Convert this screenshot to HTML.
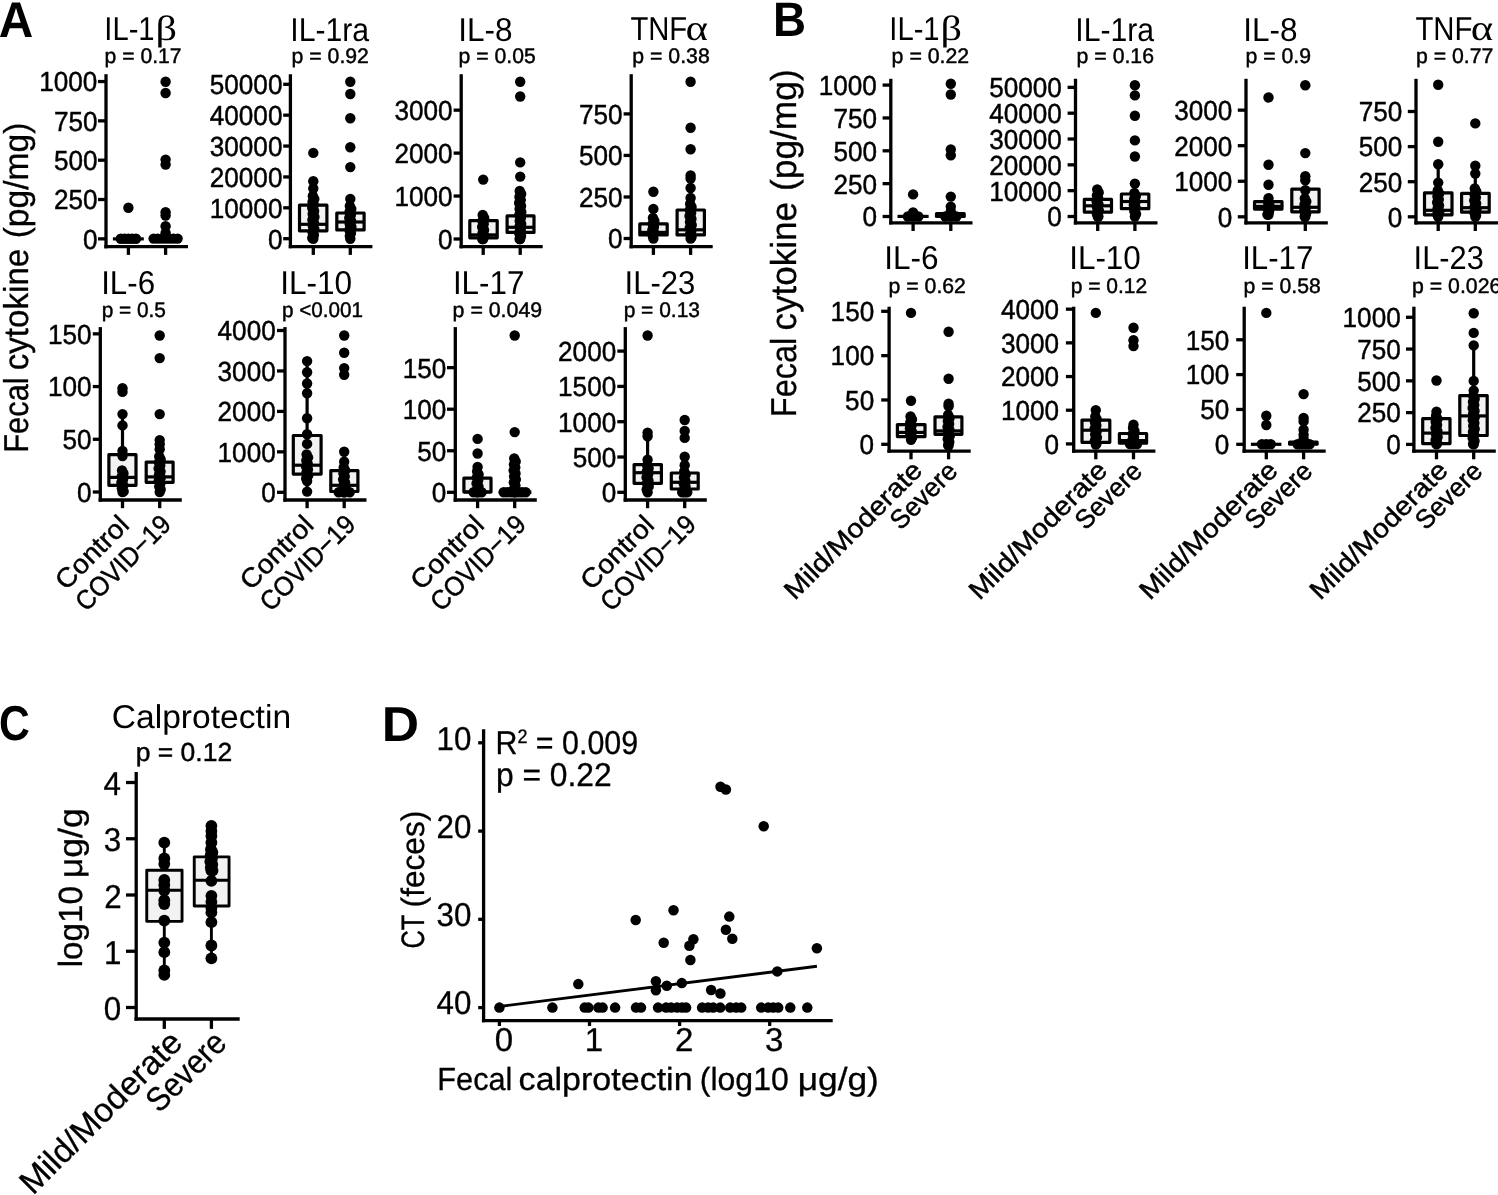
<!DOCTYPE html>
<html><head><meta charset="utf-8"><title>Fecal cytokines figure</title>
<style>
html,body{margin:0;padding:0;background:#fff;}
body{width:1498px;height:1195px;overflow:hidden;}
svg{display:block;will-change:transform;}
text{font-family:"Liberation Sans",sans-serif;fill:#000;text-rendering:geometricPrecision;}
</style></head><body>
<svg width="1498" height="1195" viewBox="0 0 1498 1195">
<rect width="1498" height="1195" fill="#fff"/>
<g>
<rect x="112.9" y="237.3" width="30.9" height="3.2" fill="#000"/>
<rect x="150.2" y="236.6" width="30.8" height="3.7" fill="#000"/>
</g><g fill="#000">
<circle cx="128.4" cy="207.8" r="5.2"/>
<circle cx="120.8" cy="238.8" r="5.2"/>
<circle cx="124.6" cy="238.8" r="5.2"/>
<circle cx="128.4" cy="238.8" r="5.2"/>
<circle cx="132.2" cy="238.8" r="5.2"/>
<circle cx="136" cy="238.8" r="5.2"/>
<circle cx="165.6" cy="81.7" r="5.2"/>
<circle cx="165.6" cy="93" r="5.2"/>
<circle cx="165.6" cy="159.6" r="5.2"/>
<circle cx="165.6" cy="164.6" r="5.2"/>
<circle cx="165.6" cy="212.2" r="5.2"/>
<circle cx="165.6" cy="215.6" r="5.2"/>
<circle cx="165.6" cy="226.3" r="5.2"/>
<circle cx="165.6" cy="233" r="5.2"/>
<circle cx="153.6" cy="238.6" r="5.2"/>
<circle cx="157.6" cy="238.6" r="5.2"/>
<circle cx="161.6" cy="238.6" r="5.2"/>
<circle cx="165.6" cy="238.6" r="5.2"/>
<circle cx="169.6" cy="238.6" r="5.2"/>
<circle cx="173.6" cy="238.6" r="5.2"/>
<circle cx="177.6" cy="238.6" r="5.2"/>
</g>
<line x1="106" y1="74.2" x2="106" y2="248.35" stroke="#000" stroke-width="3.3" stroke-linecap="butt"/>
<line x1="104.35" y1="246.7" x2="188" y2="246.7" stroke="#000" stroke-width="3.3" stroke-linecap="butt"/>
<line x1="98" y1="238.85" x2="106" y2="238.85" stroke="#000" stroke-width="3.3" stroke-linecap="butt"/>
<text x="97.44" y="248.69" font-size="27.5" stroke="#000" stroke-width="0.45" text-anchor="end" textLength="14.53" lengthAdjust="spacingAndGlyphs">0</text>
<line x1="98" y1="199.52" x2="106" y2="199.52" stroke="#000" stroke-width="3.3" stroke-linecap="butt"/>
<text x="97.51" y="209.36" font-size="27.5" stroke="#000" stroke-width="0.45" text-anchor="end" textLength="43.59" lengthAdjust="spacingAndGlyphs">250</text>
<line x1="98" y1="160.19" x2="106" y2="160.19" stroke="#000" stroke-width="3.3" stroke-linecap="butt"/>
<text x="97.51" y="170.03" font-size="27.5" stroke="#000" stroke-width="0.45" text-anchor="end" textLength="43.59" lengthAdjust="spacingAndGlyphs">500</text>
<line x1="98" y1="120.86" x2="106" y2="120.86" stroke="#000" stroke-width="3.3" stroke-linecap="butt"/>
<text x="97.51" y="130.7" font-size="27.5" stroke="#000" stroke-width="0.45" text-anchor="end" textLength="43.59" lengthAdjust="spacingAndGlyphs">750</text>
<line x1="98" y1="81.53" x2="106" y2="81.53" stroke="#000" stroke-width="3.3" stroke-linecap="butt"/>
<text x="97.41" y="91.38" font-size="27.5" stroke="#000" stroke-width="0.45" text-anchor="end" textLength="58.12" lengthAdjust="spacingAndGlyphs">1000</text>
<line x1="128.4" y1="246.7" x2="128.4" y2="254.9" stroke="#000" stroke-width="3.3" stroke-linecap="butt"/>
<line x1="165.6" y1="246.7" x2="165.6" y2="254.9" stroke="#000" stroke-width="3.3" stroke-linecap="butt"/>
<text x="104.27" y="39.7" font-size="33" textLength="50.34" lengthAdjust="spacingAndGlyphs">IL-1</text>
<text x="155.45" y="39.7" font-size="35" textLength="21.5" lengthAdjust="spacingAndGlyphs"><tspan font-family="'Liberation Serif', serif">β</tspan></text>
<text x="104.63" y="63.4" font-size="21" stroke="#000" stroke-width="0.45" textLength="76.87" lengthAdjust="spacingAndGlyphs">p = 0.17</text>
<g>
<rect x="299.5" y="205.2" width="27.4" height="25.6" fill="#f2f2f2" stroke="#000" stroke-width="3.2" stroke-linejoin="round"/>
<line x1="299.5" y1="224.3" x2="326.9" y2="224.3" stroke="#000" stroke-width="3.2" stroke-linecap="butt"/>
<rect x="336.8" y="213" width="27.3" height="16.9" fill="#f2f2f2" stroke="#000" stroke-width="3.2" stroke-linejoin="round"/>
<line x1="336.8" y1="222" x2="364.1" y2="222" stroke="#000" stroke-width="3.2" stroke-linecap="butt"/>
</g><g fill="#000">
<circle cx="313.3" cy="152.9" r="5.2"/>
<circle cx="313.3" cy="181.3" r="5.2"/>
<circle cx="313.3" cy="188.5" r="5.2"/>
<circle cx="312.82" cy="196" r="5.2"/>
<circle cx="314.28" cy="199" r="5.2"/>
<circle cx="312.53" cy="202" r="5.2"/>
<circle cx="313.85" cy="205" r="5.2"/>
<circle cx="312.24" cy="208" r="5.2"/>
<circle cx="314.14" cy="211" r="5.2"/>
<circle cx="312.68" cy="214" r="5.2"/>
<circle cx="314.43" cy="217" r="5.2"/>
<circle cx="312.39" cy="220" r="5.2"/>
<circle cx="314" cy="223" r="5.2"/>
<circle cx="312.82" cy="226" r="5.2"/>
<circle cx="314.28" cy="229" r="5.2"/>
<circle cx="312.53" cy="232" r="5.2"/>
<circle cx="313.85" cy="235" r="5.2"/>
<circle cx="312.24" cy="238" r="5.2"/>
<circle cx="313.3" cy="238.7" r="5.2"/>
<circle cx="350.3" cy="81.8" r="5.2"/>
<circle cx="350.3" cy="94" r="5.2"/>
<circle cx="350.3" cy="118.2" r="5.2"/>
<circle cx="350.3" cy="147.3" r="5.2"/>
<circle cx="350.3" cy="167.1" r="5.2"/>
<circle cx="350.3" cy="198.9" r="5.2"/>
<circle cx="349.82" cy="206" r="5.2"/>
<circle cx="351.28" cy="209" r="5.2"/>
<circle cx="349.53" cy="212" r="5.2"/>
<circle cx="350.85" cy="215" r="5.2"/>
<circle cx="349.24" cy="218" r="5.2"/>
<circle cx="351.14" cy="221" r="5.2"/>
<circle cx="349.68" cy="224" r="5.2"/>
<circle cx="351.43" cy="227" r="5.2"/>
<circle cx="349.39" cy="230" r="5.2"/>
<circle cx="351" cy="233" r="5.2"/>
<circle cx="349.82" cy="236" r="5.2"/>
<circle cx="350.3" cy="238.7" r="5.2"/>
</g>
<line x1="290.4" y1="74.2" x2="290.4" y2="248.35" stroke="#000" stroke-width="3.3" stroke-linecap="butt"/>
<line x1="288.75" y1="246.7" x2="372.4" y2="246.7" stroke="#000" stroke-width="3.3" stroke-linecap="butt"/>
<line x1="283.2" y1="238.7" x2="290.4" y2="238.7" stroke="#000" stroke-width="3.3" stroke-linecap="butt"/>
<text x="282.44" y="248.54" font-size="27.5" stroke="#000" stroke-width="0.45" text-anchor="end" textLength="14.53" lengthAdjust="spacingAndGlyphs">0</text>
<line x1="283.2" y1="207.82" x2="290.4" y2="207.82" stroke="#000" stroke-width="3.3" stroke-linecap="butt"/>
<text x="282.44" y="217.66" font-size="27.5" stroke="#000" stroke-width="0.45" text-anchor="end" textLength="72.65" lengthAdjust="spacingAndGlyphs">10000</text>
<line x1="283.2" y1="176.94" x2="290.4" y2="176.94" stroke="#000" stroke-width="3.3" stroke-linecap="butt"/>
<text x="282.44" y="186.78" font-size="27.5" stroke="#000" stroke-width="0.45" text-anchor="end" textLength="72.65" lengthAdjust="spacingAndGlyphs">20000</text>
<line x1="283.2" y1="146.06" x2="290.4" y2="146.06" stroke="#000" stroke-width="3.3" stroke-linecap="butt"/>
<text x="282.44" y="155.91" font-size="27.5" stroke="#000" stroke-width="0.45" text-anchor="end" textLength="72.65" lengthAdjust="spacingAndGlyphs">30000</text>
<line x1="283.2" y1="115.18" x2="290.4" y2="115.18" stroke="#000" stroke-width="3.3" stroke-linecap="butt"/>
<text x="282.44" y="125.02" font-size="27.5" stroke="#000" stroke-width="0.45" text-anchor="end" textLength="72.65" lengthAdjust="spacingAndGlyphs">40000</text>
<line x1="283.2" y1="84.3" x2="290.4" y2="84.3" stroke="#000" stroke-width="3.3" stroke-linecap="butt"/>
<text x="282.44" y="94.14" font-size="27.5" stroke="#000" stroke-width="0.45" text-anchor="end" textLength="72.65" lengthAdjust="spacingAndGlyphs">50000</text>
<line x1="313.3" y1="246.7" x2="313.3" y2="254.9" stroke="#000" stroke-width="3.3" stroke-linecap="butt"/>
<line x1="350.3" y1="246.7" x2="350.3" y2="254.9" stroke="#000" stroke-width="3.3" stroke-linecap="butt"/>
<text x="290.28" y="41.4" font-size="33" textLength="78.89" lengthAdjust="spacingAndGlyphs">IL-1ra</text>
<text x="291.62" y="63.4" font-size="21" stroke="#000" stroke-width="0.45" textLength="77.29" lengthAdjust="spacingAndGlyphs">p = 0.92</text>
<g>
<rect x="469.8" y="220.6" width="27.4" height="17.2" fill="#f2f2f2" stroke="#000" stroke-width="3.2" stroke-linejoin="round"/>
<line x1="469.8" y1="234.9" x2="497.2" y2="234.9" stroke="#000" stroke-width="3.2" stroke-linecap="butt"/>
<rect x="507.1" y="215.9" width="26.9" height="16.5" fill="#f2f2f2" stroke="#000" stroke-width="3.2" stroke-linejoin="round"/>
<line x1="507.1" y1="227.3" x2="534" y2="227.3" stroke="#000" stroke-width="3.2" stroke-linecap="butt"/>
</g><g fill="#000">
<circle cx="483.2" cy="179.6" r="5.2"/>
<circle cx="482.72" cy="215" r="5.2"/>
<circle cx="484.18" cy="218" r="5.2"/>
<circle cx="482.43" cy="221" r="5.2"/>
<circle cx="483.75" cy="224" r="5.2"/>
<circle cx="482.14" cy="227" r="5.2"/>
<circle cx="484.04" cy="230" r="5.2"/>
<circle cx="482.58" cy="233" r="5.2"/>
<circle cx="484.33" cy="236" r="5.2"/>
<circle cx="482.29" cy="239" r="5.2"/>
<circle cx="483.2" cy="239" r="5.2"/>
<circle cx="520.2" cy="81.8" r="5.2"/>
<circle cx="520.2" cy="96.5" r="5.2"/>
<circle cx="520.2" cy="162.4" r="5.2"/>
<circle cx="520.2" cy="176.6" r="5.2"/>
<circle cx="519.72" cy="191" r="5.2"/>
<circle cx="521.18" cy="194" r="5.2"/>
<circle cx="519.43" cy="197" r="5.2"/>
<circle cx="520.75" cy="200" r="5.2"/>
<circle cx="519.14" cy="203" r="5.2"/>
<circle cx="521.04" cy="206" r="5.2"/>
<circle cx="519.58" cy="209" r="5.2"/>
<circle cx="521.33" cy="212" r="5.2"/>
<circle cx="519.29" cy="215" r="5.2"/>
<circle cx="520.9" cy="218" r="5.2"/>
<circle cx="519.72" cy="221" r="5.2"/>
<circle cx="521.18" cy="224" r="5.2"/>
<circle cx="519.43" cy="227" r="5.2"/>
<circle cx="520.75" cy="230" r="5.2"/>
<circle cx="519.14" cy="233" r="5.2"/>
<circle cx="521.04" cy="236" r="5.2"/>
<circle cx="519.58" cy="239" r="5.2"/>
<circle cx="520.2" cy="239" r="5.2"/>
</g>
<line x1="461.2" y1="74.2" x2="461.2" y2="248.35" stroke="#000" stroke-width="3.3" stroke-linecap="butt"/>
<line x1="459.55" y1="246.7" x2="542.7" y2="246.7" stroke="#000" stroke-width="3.3" stroke-linecap="butt"/>
<line x1="453.6" y1="239" x2="461.2" y2="239" stroke="#000" stroke-width="3.3" stroke-linecap="butt"/>
<text x="452.54" y="248.84" font-size="27.5" stroke="#000" stroke-width="0.45" text-anchor="end" textLength="14.53" lengthAdjust="spacingAndGlyphs">0</text>
<line x1="453.6" y1="196.05" x2="461.2" y2="196.05" stroke="#000" stroke-width="3.3" stroke-linecap="butt"/>
<text x="452.51" y="205.9" font-size="27.5" stroke="#000" stroke-width="0.45" text-anchor="end" textLength="58.12" lengthAdjust="spacingAndGlyphs">1000</text>
<line x1="453.6" y1="153.1" x2="461.2" y2="153.1" stroke="#000" stroke-width="3.3" stroke-linecap="butt"/>
<text x="452.51" y="162.94" font-size="27.5" stroke="#000" stroke-width="0.45" text-anchor="end" textLength="58.12" lengthAdjust="spacingAndGlyphs">2000</text>
<line x1="453.6" y1="110.15" x2="461.2" y2="110.15" stroke="#000" stroke-width="3.3" stroke-linecap="butt"/>
<text x="452.51" y="119.99" font-size="27.5" stroke="#000" stroke-width="0.45" text-anchor="end" textLength="58.12" lengthAdjust="spacingAndGlyphs">3000</text>
<line x1="483.2" y1="246.7" x2="483.2" y2="254.9" stroke="#000" stroke-width="3.3" stroke-linecap="butt"/>
<line x1="520.2" y1="246.7" x2="520.2" y2="254.9" stroke="#000" stroke-width="3.3" stroke-linecap="butt"/>
<text x="458.16" y="41.4" font-size="33" textLength="54.3" lengthAdjust="spacingAndGlyphs">IL-8</text>
<text x="458.62" y="63.4" font-size="21" stroke="#000" stroke-width="0.45" textLength="77.07" lengthAdjust="spacingAndGlyphs">p = 0.05</text>
<g>
<rect x="639.8" y="223.9" width="27.4" height="11" fill="#f2f2f2" stroke="#000" stroke-width="3.2" stroke-linejoin="round"/>
<line x1="639.8" y1="232.4" x2="667.2" y2="232.4" stroke="#000" stroke-width="3.2" stroke-linecap="butt"/>
<rect x="677.1" y="210" width="27.3" height="24.9" fill="#f2f2f2" stroke="#000" stroke-width="3.2" stroke-linejoin="round"/>
<line x1="677.1" y1="229.8" x2="704.4" y2="229.8" stroke="#000" stroke-width="3.2" stroke-linecap="butt"/>
</g><g fill="#000">
<circle cx="653.4" cy="191.7" r="5.2"/>
<circle cx="653.4" cy="208.9" r="5.2"/>
<circle cx="652.92" cy="218" r="5.2"/>
<circle cx="654.38" cy="221" r="5.2"/>
<circle cx="652.63" cy="224" r="5.2"/>
<circle cx="653.95" cy="227" r="5.2"/>
<circle cx="652.34" cy="230" r="5.2"/>
<circle cx="654.24" cy="233" r="5.2"/>
<circle cx="652.78" cy="236" r="5.2"/>
<circle cx="653.4" cy="238.5" r="5.2"/>
<circle cx="690.6" cy="81.8" r="5.2"/>
<circle cx="690.6" cy="127.8" r="5.2"/>
<circle cx="690.6" cy="149.2" r="5.2"/>
<circle cx="690.6" cy="175.5" r="5.2"/>
<circle cx="690.6" cy="178.5" r="5.2"/>
<circle cx="690.6" cy="188" r="5.2"/>
<circle cx="690.6" cy="198" r="5.2"/>
<circle cx="690.12" cy="204" r="5.2"/>
<circle cx="691.58" cy="207" r="5.2"/>
<circle cx="689.83" cy="210" r="5.2"/>
<circle cx="691.15" cy="213" r="5.2"/>
<circle cx="689.54" cy="216" r="5.2"/>
<circle cx="691.44" cy="219" r="5.2"/>
<circle cx="689.98" cy="222" r="5.2"/>
<circle cx="691.73" cy="225" r="5.2"/>
<circle cx="689.69" cy="228" r="5.2"/>
<circle cx="691.3" cy="231" r="5.2"/>
<circle cx="690.12" cy="234" r="5.2"/>
<circle cx="691.58" cy="237" r="5.2"/>
<circle cx="690.6" cy="238.5" r="5.2"/>
</g>
<line x1="631.2" y1="74.2" x2="631.2" y2="248.35" stroke="#000" stroke-width="3.3" stroke-linecap="butt"/>
<line x1="629.55" y1="246.7" x2="712.7" y2="246.7" stroke="#000" stroke-width="3.3" stroke-linecap="butt"/>
<line x1="623.6" y1="238.5" x2="631.2" y2="238.5" stroke="#000" stroke-width="3.3" stroke-linecap="butt"/>
<text x="622.54" y="248.34" font-size="27.5" stroke="#000" stroke-width="0.45" text-anchor="end" textLength="14.53" lengthAdjust="spacingAndGlyphs">0</text>
<line x1="623.6" y1="196.97" x2="631.2" y2="196.97" stroke="#000" stroke-width="3.3" stroke-linecap="butt"/>
<text x="622.61" y="206.81" font-size="27.5" stroke="#000" stroke-width="0.45" text-anchor="end" textLength="43.59" lengthAdjust="spacingAndGlyphs">250</text>
<line x1="623.6" y1="155.44" x2="631.2" y2="155.44" stroke="#000" stroke-width="3.3" stroke-linecap="butt"/>
<text x="622.61" y="165.28" font-size="27.5" stroke="#000" stroke-width="0.45" text-anchor="end" textLength="43.59" lengthAdjust="spacingAndGlyphs">500</text>
<line x1="623.6" y1="113.91" x2="631.2" y2="113.91" stroke="#000" stroke-width="3.3" stroke-linecap="butt"/>
<text x="622.61" y="123.75" font-size="27.5" stroke="#000" stroke-width="0.45" text-anchor="end" textLength="43.59" lengthAdjust="spacingAndGlyphs">750</text>
<line x1="653.4" y1="246.7" x2="653.4" y2="254.9" stroke="#000" stroke-width="3.3" stroke-linecap="butt"/>
<line x1="690.6" y1="246.7" x2="690.6" y2="254.9" stroke="#000" stroke-width="3.3" stroke-linecap="butt"/>
<text x="630.42" y="39.7" font-size="33" textLength="56.82" lengthAdjust="spacingAndGlyphs">TNF</text>
<text x="685.58" y="39.7" font-size="36" textLength="22.55" lengthAdjust="spacingAndGlyphs"><tspan font-family="'Liberation Serif', serif">α</tspan></text>
<text x="632.32" y="63.4" font-size="21" stroke="#000" stroke-width="0.45" textLength="77.38" lengthAdjust="spacingAndGlyphs">p = 0.38</text>
<g>
<line x1="122.5" y1="414.1" x2="122.5" y2="453" stroke="#000" stroke-width="3.2" stroke-linecap="butt"/>
<line x1="122.5" y1="486.9" x2="122.5" y2="492" stroke="#000" stroke-width="3.2" stroke-linecap="butt"/>
<rect x="108.9" y="454.6" width="27.1" height="30.7" fill="#f2f2f2" stroke="#000" stroke-width="3.2" stroke-linejoin="round"/>
<line x1="108.9" y1="477.4" x2="136" y2="477.4" stroke="#000" stroke-width="3.2" stroke-linecap="butt"/>
<rect x="146.2" y="462.1" width="26.9" height="20.2" fill="#f2f2f2" stroke="#000" stroke-width="3.2" stroke-linejoin="round"/>
<line x1="146.2" y1="476.9" x2="173.1" y2="476.9" stroke="#000" stroke-width="3.2" stroke-linecap="butt"/>
</g><g fill="#000">
<circle cx="122.5" cy="388.2" r="5.2"/>
<circle cx="122.5" cy="391.9" r="5.2"/>
<circle cx="122.5" cy="414.1" r="5.2"/>
<circle cx="122.5" cy="425.4" r="5.2"/>
<circle cx="122.5" cy="451" r="5.2"/>
<circle cx="122.5" cy="456" r="5.2"/>
<circle cx="122.02" cy="470.4" r="5.2"/>
<circle cx="123.48" cy="473.4" r="5.2"/>
<circle cx="121.73" cy="476.4" r="5.2"/>
<circle cx="123.05" cy="479.4" r="5.2"/>
<circle cx="121.44" cy="482.4" r="5.2"/>
<circle cx="123.34" cy="485.4" r="5.2"/>
<circle cx="121.88" cy="488.4" r="5.2"/>
<circle cx="123.63" cy="491.4" r="5.2"/>
<circle cx="122.5" cy="492" r="5.2"/>
<circle cx="159.7" cy="335.5" r="5.2"/>
<circle cx="159.7" cy="358.1" r="5.2"/>
<circle cx="159.7" cy="414.1" r="5.2"/>
<circle cx="159.7" cy="440.1" r="5.2"/>
<circle cx="159.7" cy="444.3" r="5.2"/>
<circle cx="159.7" cy="449.3" r="5.2"/>
<circle cx="159.22" cy="456.4" r="5.2"/>
<circle cx="160.68" cy="459.4" r="5.2"/>
<circle cx="158.93" cy="462.4" r="5.2"/>
<circle cx="160.25" cy="465.4" r="5.2"/>
<circle cx="158.64" cy="468.4" r="5.2"/>
<circle cx="160.54" cy="471.4" r="5.2"/>
<circle cx="159.08" cy="474.4" r="5.2"/>
<circle cx="160.83" cy="477.4" r="5.2"/>
<circle cx="158.79" cy="480.4" r="5.2"/>
<circle cx="160.4" cy="483.4" r="5.2"/>
<circle cx="159.22" cy="486.4" r="5.2"/>
<circle cx="160.68" cy="489.4" r="5.2"/>
<circle cx="159.7" cy="492" r="5.2"/>
</g>
<line x1="100.3" y1="327.1" x2="100.3" y2="501.65" stroke="#000" stroke-width="3.3" stroke-linecap="butt"/>
<line x1="98.65" y1="500" x2="181.8" y2="500" stroke="#000" stroke-width="3.3" stroke-linecap="butt"/>
<line x1="92.8" y1="492" x2="100.3" y2="492" stroke="#000" stroke-width="3.3" stroke-linecap="butt"/>
<text x="91.54" y="501.85" font-size="27.5" stroke="#000" stroke-width="0.45" text-anchor="end" textLength="14.53" lengthAdjust="spacingAndGlyphs">0</text>
<line x1="92.8" y1="439.28" x2="100.3" y2="439.28" stroke="#000" stroke-width="3.3" stroke-linecap="butt"/>
<text x="91.58" y="449.12" font-size="27.5" stroke="#000" stroke-width="0.45" text-anchor="end" textLength="29.06" lengthAdjust="spacingAndGlyphs">50</text>
<line x1="92.8" y1="386.56" x2="100.3" y2="386.56" stroke="#000" stroke-width="3.3" stroke-linecap="butt"/>
<text x="91.61" y="396.4" font-size="27.5" stroke="#000" stroke-width="0.45" text-anchor="end" textLength="43.59" lengthAdjust="spacingAndGlyphs">100</text>
<line x1="92.8" y1="333.84" x2="100.3" y2="333.84" stroke="#000" stroke-width="3.3" stroke-linecap="butt"/>
<text x="91.61" y="343.69" font-size="27.5" stroke="#000" stroke-width="0.45" text-anchor="end" textLength="43.59" lengthAdjust="spacingAndGlyphs">150</text>
<line x1="122.5" y1="500" x2="122.5" y2="508.2" stroke="#000" stroke-width="3.3" stroke-linecap="butt"/>
<line x1="159.7" y1="500" x2="159.7" y2="508.2" stroke="#000" stroke-width="3.3" stroke-linecap="butt"/>
<text x="101.19" y="293.7" font-size="33" textLength="53.86" lengthAdjust="spacingAndGlyphs">IL-6</text>
<text x="101.65" y="316.7" font-size="21" stroke="#000" stroke-width="0.45" textLength="64.31" lengthAdjust="spacingAndGlyphs">p = 0.5</text>
<g>
<line x1="307.1" y1="361.1" x2="307.1" y2="433.9" stroke="#000" stroke-width="3.2" stroke-linecap="butt"/>
<line x1="307.1" y1="475.7" x2="307.1" y2="491.6" stroke="#000" stroke-width="3.2" stroke-linecap="butt"/>
<rect x="293.3" y="435.5" width="27.8" height="38.6" fill="#f2f2f2" stroke="#000" stroke-width="3.2" stroke-linejoin="round"/>
<line x1="293.3" y1="465.2" x2="321.1" y2="465.2" stroke="#000" stroke-width="3.2" stroke-linecap="butt"/>
<rect x="330.8" y="470.6" width="27.1" height="20.9" fill="#f2f2f2" stroke="#000" stroke-width="3.2" stroke-linejoin="round"/>
<line x1="330.8" y1="485.3" x2="357.9" y2="485.3" stroke="#000" stroke-width="3.2" stroke-linecap="butt"/>
</g><g fill="#000">
<circle cx="307.1" cy="361.1" r="5.2"/>
<circle cx="307.1" cy="372.3" r="5.2"/>
<circle cx="307.1" cy="383.5" r="5.2"/>
<circle cx="307.1" cy="393.2" r="5.2"/>
<circle cx="307.1" cy="418.3" r="5.2"/>
<circle cx="307.1" cy="434.2" r="5.2"/>
<circle cx="307.1" cy="443.9" r="5.2"/>
<circle cx="306.62" cy="454.4" r="5.2"/>
<circle cx="308.08" cy="457.4" r="5.2"/>
<circle cx="306.33" cy="460.4" r="5.2"/>
<circle cx="307.65" cy="463.4" r="5.2"/>
<circle cx="306.04" cy="466.4" r="5.2"/>
<circle cx="307.94" cy="469.4" r="5.2"/>
<circle cx="306.48" cy="472.4" r="5.2"/>
<circle cx="308.23" cy="475.4" r="5.2"/>
<circle cx="306.19" cy="478.4" r="5.2"/>
<circle cx="307.1" cy="481.1" r="5.2"/>
<circle cx="307.1" cy="491.6" r="5.2"/>
<circle cx="344.2" cy="335.5" r="5.2"/>
<circle cx="344.2" cy="352.7" r="5.2"/>
<circle cx="344.2" cy="368.1" r="5.2"/>
<circle cx="344.2" cy="374.8" r="5.2"/>
<circle cx="344.2" cy="451.8" r="5.2"/>
<circle cx="344.2" cy="461.8" r="5.2"/>
<circle cx="343.72" cy="467.4" r="5.2"/>
<circle cx="345.18" cy="470.4" r="5.2"/>
<circle cx="343.43" cy="473.4" r="5.2"/>
<circle cx="344.75" cy="476.4" r="5.2"/>
<circle cx="343.14" cy="479.4" r="5.2"/>
<circle cx="345.04" cy="482.4" r="5.2"/>
<circle cx="343.58" cy="485.4" r="5.2"/>
<circle cx="345.33" cy="488.4" r="5.2"/>
<circle cx="343.29" cy="491.4" r="5.2"/>
<circle cx="344.2" cy="492.3" r="5.2"/>
<circle cx="338.7" cy="492.3" r="5.2"/>
<circle cx="344.2" cy="492.3" r="5.2"/>
<circle cx="349.7" cy="492.3" r="5.2"/>
</g>
<line x1="285" y1="327.1" x2="285" y2="501.65" stroke="#000" stroke-width="3.3" stroke-linecap="butt"/>
<line x1="283.35" y1="500" x2="366.5" y2="500" stroke="#000" stroke-width="3.3" stroke-linecap="butt"/>
<line x1="277" y1="492.3" x2="285" y2="492.3" stroke="#000" stroke-width="3.3" stroke-linecap="butt"/>
<text x="275.74" y="502.14" font-size="27.5" stroke="#000" stroke-width="0.45" text-anchor="end" textLength="14.53" lengthAdjust="spacingAndGlyphs">0</text>
<line x1="277" y1="451.85" x2="285" y2="451.85" stroke="#000" stroke-width="3.3" stroke-linecap="butt"/>
<text x="275.71" y="461.69" font-size="27.5" stroke="#000" stroke-width="0.45" text-anchor="end" textLength="58.12" lengthAdjust="spacingAndGlyphs">1000</text>
<line x1="277" y1="411.4" x2="285" y2="411.4" stroke="#000" stroke-width="3.3" stroke-linecap="butt"/>
<text x="275.71" y="421.25" font-size="27.5" stroke="#000" stroke-width="0.45" text-anchor="end" textLength="58.12" lengthAdjust="spacingAndGlyphs">2000</text>
<line x1="277" y1="370.95" x2="285" y2="370.95" stroke="#000" stroke-width="3.3" stroke-linecap="butt"/>
<text x="275.71" y="380.79" font-size="27.5" stroke="#000" stroke-width="0.45" text-anchor="end" textLength="58.12" lengthAdjust="spacingAndGlyphs">3000</text>
<line x1="277" y1="330.5" x2="285" y2="330.5" stroke="#000" stroke-width="3.3" stroke-linecap="butt"/>
<text x="275.71" y="340.34" font-size="27.5" stroke="#000" stroke-width="0.45" text-anchor="end" textLength="58.12" lengthAdjust="spacingAndGlyphs">4000</text>
<line x1="307.1" y1="500" x2="307.1" y2="508.2" stroke="#000" stroke-width="3.3" stroke-linecap="butt"/>
<line x1="344.2" y1="500" x2="344.2" y2="508.2" stroke="#000" stroke-width="3.3" stroke-linecap="butt"/>
<text x="280.16" y="293.7" font-size="33" textLength="72.03" lengthAdjust="spacingAndGlyphs">IL-10</text>
<text x="282.06" y="316.7" font-size="21" stroke="#000" stroke-width="0.45" textLength="80.98" lengthAdjust="spacingAndGlyphs">p &lt;0.001</text>
<g>
<rect x="463.9" y="478.2" width="27.1" height="13.8" fill="#f2f2f2" stroke="#000" stroke-width="3.2" stroke-linejoin="round"/>
<line x1="463.9" y1="492" x2="491" y2="492" stroke="#000" stroke-width="3.2" stroke-linecap="butt"/>
<rect x="498.8" y="490.6" width="32.6" height="3.3" fill="#000"/>
</g><g fill="#000">
<circle cx="477.6" cy="438.9" r="5.2"/>
<circle cx="477.6" cy="453.5" r="5.2"/>
<circle cx="477.6" cy="466.9" r="5.2"/>
<circle cx="477.12" cy="471.4" r="5.2"/>
<circle cx="478.58" cy="474.4" r="5.2"/>
<circle cx="476.83" cy="477.4" r="5.2"/>
<circle cx="478.15" cy="480.4" r="5.2"/>
<circle cx="476.54" cy="483.4" r="5.2"/>
<circle cx="478.44" cy="486.4" r="5.2"/>
<circle cx="476.98" cy="489.4" r="5.2"/>
<circle cx="477.6" cy="492.3" r="5.2"/>
<circle cx="473.6" cy="492.3" r="5.2"/>
<circle cx="477.6" cy="492.3" r="5.2"/>
<circle cx="481.6" cy="492.3" r="5.2"/>
<circle cx="514.7" cy="335.5" r="5.2"/>
<circle cx="514.7" cy="432.1" r="5.2"/>
<circle cx="514.22" cy="458.4" r="5.2"/>
<circle cx="515.68" cy="461.4" r="5.2"/>
<circle cx="513.93" cy="464.4" r="5.2"/>
<circle cx="515.25" cy="467.4" r="5.2"/>
<circle cx="513.64" cy="470.4" r="5.2"/>
<circle cx="515.54" cy="473.4" r="5.2"/>
<circle cx="514.08" cy="476.4" r="5.2"/>
<circle cx="515.83" cy="479.4" r="5.2"/>
<circle cx="513.79" cy="482.4" r="5.2"/>
<circle cx="515.4" cy="485.4" r="5.2"/>
<circle cx="514.22" cy="488.4" r="5.2"/>
<circle cx="515.68" cy="491.4" r="5.2"/>
<circle cx="514.7" cy="492.3" r="5.2"/>
<circle cx="503.7" cy="492.3" r="5.2"/>
<circle cx="507.4" cy="492.3" r="5.2"/>
<circle cx="511" cy="492.3" r="5.2"/>
<circle cx="514.7" cy="492.3" r="5.2"/>
<circle cx="518.4" cy="492.3" r="5.2"/>
<circle cx="522" cy="492.3" r="5.2"/>
<circle cx="525.7" cy="492.3" r="5.2"/>
</g>
<line x1="455.3" y1="327.1" x2="455.3" y2="501.65" stroke="#000" stroke-width="3.3" stroke-linecap="butt"/>
<line x1="453.65" y1="500" x2="536.8" y2="500" stroke="#000" stroke-width="3.3" stroke-linecap="butt"/>
<line x1="447" y1="492.3" x2="455.3" y2="492.3" stroke="#000" stroke-width="3.3" stroke-linecap="butt"/>
<text x="446.24" y="502.14" font-size="27.5" stroke="#000" stroke-width="0.45" text-anchor="end" textLength="14.53" lengthAdjust="spacingAndGlyphs">0</text>
<line x1="447" y1="450.75" x2="455.3" y2="450.75" stroke="#000" stroke-width="3.3" stroke-linecap="butt"/>
<text x="446.28" y="460.59" font-size="27.5" stroke="#000" stroke-width="0.45" text-anchor="end" textLength="29.06" lengthAdjust="spacingAndGlyphs">50</text>
<line x1="447" y1="409.2" x2="455.3" y2="409.2" stroke="#000" stroke-width="3.3" stroke-linecap="butt"/>
<text x="446.31" y="419.04" font-size="27.5" stroke="#000" stroke-width="0.45" text-anchor="end" textLength="43.59" lengthAdjust="spacingAndGlyphs">100</text>
<line x1="447" y1="367.65" x2="455.3" y2="367.65" stroke="#000" stroke-width="3.3" stroke-linecap="butt"/>
<text x="446.31" y="377.5" font-size="27.5" stroke="#000" stroke-width="0.45" text-anchor="end" textLength="43.59" lengthAdjust="spacingAndGlyphs">150</text>
<line x1="477.6" y1="500" x2="477.6" y2="508.2" stroke="#000" stroke-width="3.3" stroke-linecap="butt"/>
<line x1="514.7" y1="500" x2="514.7" y2="508.2" stroke="#000" stroke-width="3.3" stroke-linecap="butt"/>
<text x="452.88" y="293.7" font-size="33" textLength="71.47" lengthAdjust="spacingAndGlyphs">IL-17</text>
<text x="452.61" y="316.7" font-size="21" stroke="#000" stroke-width="0.45" textLength="89.52" lengthAdjust="spacingAndGlyphs">p = 0.049</text>
<g>
<line x1="647.6" y1="435.1" x2="647.6" y2="463" stroke="#000" stroke-width="3.2" stroke-linecap="butt"/>
<line x1="647.6" y1="484.9" x2="647.6" y2="492.3" stroke="#000" stroke-width="3.2" stroke-linecap="butt"/>
<rect x="634.1" y="464.6" width="27.3" height="18.7" fill="#f2f2f2" stroke="#000" stroke-width="3.2" stroke-linejoin="round"/>
<line x1="634.1" y1="472.7" x2="661.4" y2="472.7" stroke="#000" stroke-width="3.2" stroke-linecap="butt"/>
<rect x="671.3" y="473" width="26.9" height="16" fill="#f2f2f2" stroke="#000" stroke-width="3.2" stroke-linejoin="round"/>
<line x1="671.3" y1="482.3" x2="698.2" y2="482.3" stroke="#000" stroke-width="3.2" stroke-linecap="butt"/>
</g><g fill="#000">
<circle cx="647.6" cy="335.5" r="5.2"/>
<circle cx="647.6" cy="432.6" r="5.2"/>
<circle cx="647.6" cy="436.2" r="5.2"/>
<circle cx="647.6" cy="459.8" r="5.2"/>
<circle cx="647.12" cy="465.4" r="5.2"/>
<circle cx="648.58" cy="468.4" r="5.2"/>
<circle cx="646.83" cy="471.4" r="5.2"/>
<circle cx="648.15" cy="474.4" r="5.2"/>
<circle cx="646.54" cy="477.4" r="5.2"/>
<circle cx="648.44" cy="480.4" r="5.2"/>
<circle cx="646.98" cy="483.4" r="5.2"/>
<circle cx="648.73" cy="486.4" r="5.2"/>
<circle cx="646.69" cy="489.4" r="5.2"/>
<circle cx="647.6" cy="492.3" r="5.2"/>
<circle cx="684.7" cy="420" r="5.2"/>
<circle cx="684.7" cy="430.9" r="5.2"/>
<circle cx="684.7" cy="437.9" r="5.2"/>
<circle cx="684.7" cy="456.8" r="5.2"/>
<circle cx="684.7" cy="465.2" r="5.2"/>
<circle cx="684.22" cy="471.4" r="5.2"/>
<circle cx="685.68" cy="474.4" r="5.2"/>
<circle cx="683.93" cy="477.4" r="5.2"/>
<circle cx="685.25" cy="480.4" r="5.2"/>
<circle cx="683.64" cy="483.4" r="5.2"/>
<circle cx="685.54" cy="486.4" r="5.2"/>
<circle cx="684.08" cy="489.4" r="5.2"/>
<circle cx="684.7" cy="492.3" r="5.2"/>
<circle cx="682.2" cy="492.3" r="5.2"/>
<circle cx="687.2" cy="492.3" r="5.2"/>
</g>
<line x1="625.3" y1="327.1" x2="625.3" y2="501.65" stroke="#000" stroke-width="3.3" stroke-linecap="butt"/>
<line x1="623.65" y1="500" x2="706.8" y2="500" stroke="#000" stroke-width="3.3" stroke-linecap="butt"/>
<line x1="617.3" y1="492.3" x2="625.3" y2="492.3" stroke="#000" stroke-width="3.3" stroke-linecap="butt"/>
<text x="616.24" y="502.14" font-size="27.5" stroke="#000" stroke-width="0.45" text-anchor="end" textLength="14.53" lengthAdjust="spacingAndGlyphs">0</text>
<line x1="617.3" y1="457" x2="625.3" y2="457" stroke="#000" stroke-width="3.3" stroke-linecap="butt"/>
<text x="616.31" y="466.84" font-size="27.5" stroke="#000" stroke-width="0.45" text-anchor="end" textLength="43.59" lengthAdjust="spacingAndGlyphs">500</text>
<line x1="617.3" y1="421.7" x2="625.3" y2="421.7" stroke="#000" stroke-width="3.3" stroke-linecap="butt"/>
<text x="616.21" y="431.54" font-size="27.5" stroke="#000" stroke-width="0.45" text-anchor="end" textLength="58.12" lengthAdjust="spacingAndGlyphs">1000</text>
<line x1="617.3" y1="386.4" x2="625.3" y2="386.4" stroke="#000" stroke-width="3.3" stroke-linecap="butt"/>
<text x="616.21" y="396.25" font-size="27.5" stroke="#000" stroke-width="0.45" text-anchor="end" textLength="58.12" lengthAdjust="spacingAndGlyphs">1500</text>
<line x1="617.3" y1="351.1" x2="625.3" y2="351.1" stroke="#000" stroke-width="3.3" stroke-linecap="butt"/>
<text x="616.21" y="360.94" font-size="27.5" stroke="#000" stroke-width="0.45" text-anchor="end" textLength="58.12" lengthAdjust="spacingAndGlyphs">2000</text>
<line x1="647.6" y1="500" x2="647.6" y2="508.2" stroke="#000" stroke-width="3.3" stroke-linecap="butt"/>
<line x1="684.7" y1="500" x2="684.7" y2="508.2" stroke="#000" stroke-width="3.3" stroke-linecap="butt"/>
<text x="624.5" y="293.7" font-size="33" textLength="70.82" lengthAdjust="spacingAndGlyphs">IL-23</text>
<text x="623.64" y="316.7" font-size="21" stroke="#000" stroke-width="0.45" textLength="76.35" lengthAdjust="spacingAndGlyphs">p = 0.13</text>
<g>
<rect x="897.5" y="214.8" width="31.1" height="3.2" fill="#000"/>
<rect x="936.5" y="213.7" width="27.7" height="2.7" fill="#f2f2f2" stroke="#000" stroke-width="3.2" stroke-linejoin="round"/>
<line x1="936.5" y1="216" x2="964.2" y2="216" stroke="#000" stroke-width="3.2" stroke-linecap="butt"/>
</g><g fill="#000">
<circle cx="913.1" cy="194.4" r="5.2"/>
<circle cx="913.1" cy="212.5" r="5.2"/>
<circle cx="907.9" cy="216.5" r="5.2"/>
<circle cx="913.1" cy="216.5" r="5.2"/>
<circle cx="918.3" cy="216.5" r="5.2"/>
<circle cx="950.8" cy="83.7" r="5.2"/>
<circle cx="950.8" cy="94.5" r="5.2"/>
<circle cx="950.8" cy="149.4" r="5.2"/>
<circle cx="950.8" cy="155.3" r="5.2"/>
<circle cx="950.8" cy="196.6" r="5.2"/>
<circle cx="950.8" cy="206.6" r="5.2"/>
<circle cx="950.8" cy="211.5" r="5.2"/>
<circle cx="945.3" cy="216.5" r="5.2"/>
<circle cx="950.8" cy="216.5" r="5.2"/>
<circle cx="956.3" cy="216.5" r="5.2"/>
</g>
<line x1="890.8" y1="78.8" x2="890.8" y2="224.45" stroke="#000" stroke-width="3.3" stroke-linecap="butt"/>
<line x1="889.15" y1="222.8" x2="972.5" y2="222.8" stroke="#000" stroke-width="3.3" stroke-linecap="butt"/>
<line x1="882.6" y1="216.5" x2="890.8" y2="216.5" stroke="#000" stroke-width="3.3" stroke-linecap="butt"/>
<text x="876.94" y="226.34" font-size="27.5" stroke="#000" stroke-width="0.45" text-anchor="end" textLength="14.53" lengthAdjust="spacingAndGlyphs">0</text>
<line x1="882.6" y1="183.65" x2="890.8" y2="183.65" stroke="#000" stroke-width="3.3" stroke-linecap="butt"/>
<text x="877.01" y="193.5" font-size="27.5" stroke="#000" stroke-width="0.45" text-anchor="end" textLength="43.59" lengthAdjust="spacingAndGlyphs">250</text>
<line x1="882.6" y1="150.8" x2="890.8" y2="150.8" stroke="#000" stroke-width="3.3" stroke-linecap="butt"/>
<text x="877.01" y="160.65" font-size="27.5" stroke="#000" stroke-width="0.45" text-anchor="end" textLength="43.59" lengthAdjust="spacingAndGlyphs">500</text>
<line x1="882.6" y1="117.95" x2="890.8" y2="117.95" stroke="#000" stroke-width="3.3" stroke-linecap="butt"/>
<text x="877.01" y="127.79" font-size="27.5" stroke="#000" stroke-width="0.45" text-anchor="end" textLength="43.59" lengthAdjust="spacingAndGlyphs">750</text>
<line x1="882.6" y1="85.1" x2="890.8" y2="85.1" stroke="#000" stroke-width="3.3" stroke-linecap="butt"/>
<text x="876.91" y="94.94" font-size="27.5" stroke="#000" stroke-width="0.45" text-anchor="end" textLength="58.12" lengthAdjust="spacingAndGlyphs">1000</text>
<line x1="913.1" y1="222.8" x2="913.1" y2="231" stroke="#000" stroke-width="3.3" stroke-linecap="butt"/>
<line x1="950.8" y1="222.8" x2="950.8" y2="231" stroke="#000" stroke-width="3.3" stroke-linecap="butt"/>
<text x="889.27" y="39.7" font-size="33" textLength="50.34" lengthAdjust="spacingAndGlyphs">IL-1</text>
<text x="940.45" y="39.7" font-size="35" textLength="21.5" lengthAdjust="spacingAndGlyphs"><tspan font-family="'Liberation Serif', serif">β</tspan></text>
<text x="891.62" y="62.7" font-size="21" stroke="#000" stroke-width="0.45" textLength="77.6" lengthAdjust="spacingAndGlyphs">p = 0.22</text>
<g>
<rect x="1084.3" y="199.4" width="27.2" height="12.7" fill="#f2f2f2" stroke="#000" stroke-width="3.2" stroke-linejoin="round"/>
<line x1="1084.3" y1="205.8" x2="1111.5" y2="205.8" stroke="#000" stroke-width="3.2" stroke-linecap="butt"/>
<rect x="1121.4" y="194" width="27.4" height="14.7" fill="#f2f2f2" stroke="#000" stroke-width="3.2" stroke-linejoin="round"/>
<line x1="1121.4" y1="201.5" x2="1148.8" y2="201.5" stroke="#000" stroke-width="3.2" stroke-linecap="butt"/>
</g><g fill="#000">
<circle cx="1097.22" cy="189.5" r="5.2"/>
<circle cx="1098.68" cy="192.5" r="5.2"/>
<circle cx="1096.93" cy="195.5" r="5.2"/>
<circle cx="1098.25" cy="198.5" r="5.2"/>
<circle cx="1096.64" cy="201.5" r="5.2"/>
<circle cx="1098.54" cy="204.5" r="5.2"/>
<circle cx="1097.08" cy="207.5" r="5.2"/>
<circle cx="1098.83" cy="210.5" r="5.2"/>
<circle cx="1096.79" cy="213.5" r="5.2"/>
<circle cx="1098.4" cy="216.5" r="5.2"/>
<circle cx="1097.7" cy="216.5" r="5.2"/>
<circle cx="1134.9" cy="85.3" r="5.2"/>
<circle cx="1134.9" cy="95.4" r="5.2"/>
<circle cx="1134.9" cy="115.8" r="5.2"/>
<circle cx="1134.9" cy="140.4" r="5.2"/>
<circle cx="1134.9" cy="156.5" r="5.2"/>
<circle cx="1134.9" cy="183.6" r="5.2"/>
<circle cx="1134.42" cy="193" r="5.2"/>
<circle cx="1135.88" cy="196" r="5.2"/>
<circle cx="1134.13" cy="199" r="5.2"/>
<circle cx="1135.45" cy="202" r="5.2"/>
<circle cx="1133.84" cy="205" r="5.2"/>
<circle cx="1135.74" cy="208" r="5.2"/>
<circle cx="1134.28" cy="211" r="5.2"/>
<circle cx="1136.03" cy="214" r="5.2"/>
<circle cx="1134.9" cy="216.5" r="5.2"/>
</g>
<line x1="1075.5" y1="78.8" x2="1075.5" y2="224.45" stroke="#000" stroke-width="3.3" stroke-linecap="butt"/>
<line x1="1073.85" y1="222.8" x2="1157.5" y2="222.8" stroke="#000" stroke-width="3.3" stroke-linecap="butt"/>
<line x1="1067.6" y1="216.5" x2="1075.5" y2="216.5" stroke="#000" stroke-width="3.3" stroke-linecap="butt"/>
<text x="1061.84" y="226.34" font-size="27.5" stroke="#000" stroke-width="0.45" text-anchor="end" textLength="14.53" lengthAdjust="spacingAndGlyphs">0</text>
<line x1="1067.6" y1="190.67" x2="1075.5" y2="190.67" stroke="#000" stroke-width="3.3" stroke-linecap="butt"/>
<text x="1061.84" y="200.52" font-size="27.5" stroke="#000" stroke-width="0.45" text-anchor="end" textLength="72.65" lengthAdjust="spacingAndGlyphs">10000</text>
<line x1="1067.6" y1="164.84" x2="1075.5" y2="164.84" stroke="#000" stroke-width="3.3" stroke-linecap="butt"/>
<text x="1061.84" y="174.69" font-size="27.5" stroke="#000" stroke-width="0.45" text-anchor="end" textLength="72.65" lengthAdjust="spacingAndGlyphs">20000</text>
<line x1="1067.6" y1="139.01" x2="1075.5" y2="139.01" stroke="#000" stroke-width="3.3" stroke-linecap="butt"/>
<text x="1061.84" y="148.85" font-size="27.5" stroke="#000" stroke-width="0.45" text-anchor="end" textLength="72.65" lengthAdjust="spacingAndGlyphs">30000</text>
<line x1="1067.6" y1="113.18" x2="1075.5" y2="113.18" stroke="#000" stroke-width="3.3" stroke-linecap="butt"/>
<text x="1061.84" y="123.03" font-size="27.5" stroke="#000" stroke-width="0.45" text-anchor="end" textLength="72.65" lengthAdjust="spacingAndGlyphs">40000</text>
<line x1="1067.6" y1="87.35" x2="1075.5" y2="87.35" stroke="#000" stroke-width="3.3" stroke-linecap="butt"/>
<text x="1061.84" y="97.2" font-size="27.5" stroke="#000" stroke-width="0.45" text-anchor="end" textLength="72.65" lengthAdjust="spacingAndGlyphs">50000</text>
<line x1="1097.7" y1="222.8" x2="1097.7" y2="231" stroke="#000" stroke-width="3.3" stroke-linecap="butt"/>
<line x1="1134.9" y1="222.8" x2="1134.9" y2="231" stroke="#000" stroke-width="3.3" stroke-linecap="butt"/>
<text x="1075.28" y="41.4" font-size="33" textLength="78.89" lengthAdjust="spacingAndGlyphs">IL-1ra</text>
<text x="1076.62" y="62.7" font-size="21" stroke="#000" stroke-width="0.45" textLength="77.38" lengthAdjust="spacingAndGlyphs">p = 0.16</text>
<g>
<rect x="1254.5" y="201.7" width="27.5" height="7.4" fill="#f2f2f2" stroke="#000" stroke-width="3.2" stroke-linejoin="round"/>
<line x1="1254.5" y1="206.4" x2="1282" y2="206.4" stroke="#000" stroke-width="3.2" stroke-linecap="butt"/>
<rect x="1291.8" y="189.2" width="27.3" height="22.6" fill="#f2f2f2" stroke="#000" stroke-width="3.2" stroke-linejoin="round"/>
<line x1="1291.8" y1="207.3" x2="1319.1" y2="207.3" stroke="#000" stroke-width="3.2" stroke-linecap="butt"/>
</g><g fill="#000">
<circle cx="1268.5" cy="97.5" r="5.2"/>
<circle cx="1268.5" cy="164.8" r="5.2"/>
<circle cx="1268.5" cy="184.8" r="5.2"/>
<circle cx="1268.5" cy="198.3" r="5.2"/>
<circle cx="1268.02" cy="202.5" r="5.2"/>
<circle cx="1269.48" cy="205.5" r="5.2"/>
<circle cx="1267.73" cy="208.5" r="5.2"/>
<circle cx="1269.05" cy="211.5" r="5.2"/>
<circle cx="1267.44" cy="214.5" r="5.2"/>
<circle cx="1268.5" cy="214.7" r="5.2"/>
<circle cx="1305.3" cy="85.2" r="5.2"/>
<circle cx="1305.3" cy="153.1" r="5.2"/>
<circle cx="1305.3" cy="176.2" r="5.2"/>
<circle cx="1305.3" cy="180.2" r="5.2"/>
<circle cx="1305.3" cy="190.3" r="5.2"/>
<circle cx="1304.82" cy="198.5" r="5.2"/>
<circle cx="1306.28" cy="201.5" r="5.2"/>
<circle cx="1304.53" cy="204.5" r="5.2"/>
<circle cx="1305.85" cy="207.5" r="5.2"/>
<circle cx="1304.24" cy="210.5" r="5.2"/>
<circle cx="1306.14" cy="213.5" r="5.2"/>
<circle cx="1304.68" cy="216.5" r="5.2"/>
<circle cx="1305.3" cy="216.8" r="5.2"/>
</g>
<line x1="1246" y1="78.8" x2="1246" y2="224.45" stroke="#000" stroke-width="3.3" stroke-linecap="butt"/>
<line x1="1244.35" y1="222.8" x2="1327.8" y2="222.8" stroke="#000" stroke-width="3.3" stroke-linecap="butt"/>
<line x1="1237.8" y1="216.8" x2="1246" y2="216.8" stroke="#000" stroke-width="3.3" stroke-linecap="butt"/>
<text x="1232.34" y="226.65" font-size="27.5" stroke="#000" stroke-width="0.45" text-anchor="end" textLength="14.53" lengthAdjust="spacingAndGlyphs">0</text>
<line x1="1237.8" y1="181.25" x2="1246" y2="181.25" stroke="#000" stroke-width="3.3" stroke-linecap="butt"/>
<text x="1232.31" y="191.09" font-size="27.5" stroke="#000" stroke-width="0.45" text-anchor="end" textLength="58.12" lengthAdjust="spacingAndGlyphs">1000</text>
<line x1="1237.8" y1="145.7" x2="1246" y2="145.7" stroke="#000" stroke-width="3.3" stroke-linecap="butt"/>
<text x="1232.31" y="155.55" font-size="27.5" stroke="#000" stroke-width="0.45" text-anchor="end" textLength="58.12" lengthAdjust="spacingAndGlyphs">2000</text>
<line x1="1237.8" y1="110.15" x2="1246" y2="110.15" stroke="#000" stroke-width="3.3" stroke-linecap="butt"/>
<text x="1232.31" y="120" font-size="27.5" stroke="#000" stroke-width="0.45" text-anchor="end" textLength="58.12" lengthAdjust="spacingAndGlyphs">3000</text>
<line x1="1268.5" y1="222.8" x2="1268.5" y2="231" stroke="#000" stroke-width="3.3" stroke-linecap="butt"/>
<line x1="1305.3" y1="222.8" x2="1305.3" y2="231" stroke="#000" stroke-width="3.3" stroke-linecap="butt"/>
<text x="1243.16" y="41.4" font-size="33" textLength="54.3" lengthAdjust="spacingAndGlyphs">IL-8</text>
<text x="1245.62" y="62.7" font-size="21" stroke="#000" stroke-width="0.45" textLength="65.45" lengthAdjust="spacingAndGlyphs">p = 0.9</text>
<g>
<line x1="1438.2" y1="164.2" x2="1438.2" y2="191.3" stroke="#000" stroke-width="3.2" stroke-linecap="butt"/>
<line x1="1438.2" y1="216.4" x2="1438.2" y2="216.8" stroke="#000" stroke-width="3.2" stroke-linecap="butt"/>
<rect x="1424.5" y="192.9" width="27.5" height="21.9" fill="#f2f2f2" stroke="#000" stroke-width="3.2" stroke-linejoin="round"/>
<line x1="1424.5" y1="210.3" x2="1452" y2="210.3" stroke="#000" stroke-width="3.2" stroke-linecap="butt"/>
<line x1="1475.3" y1="165.8" x2="1475.3" y2="191.7" stroke="#000" stroke-width="3.2" stroke-linecap="butt"/>
<line x1="1475.3" y1="213.8" x2="1475.3" y2="216.8" stroke="#000" stroke-width="3.2" stroke-linecap="butt"/>
<rect x="1461.6" y="193.3" width="27.6" height="18.9" fill="#f2f2f2" stroke="#000" stroke-width="3.2" stroke-linejoin="round"/>
<line x1="1461.6" y1="207.7" x2="1489.2" y2="207.7" stroke="#000" stroke-width="3.2" stroke-linecap="butt"/>
</g><g fill="#000">
<circle cx="1438.2" cy="84.8" r="5.2"/>
<circle cx="1438.2" cy="141.7" r="5.2"/>
<circle cx="1438.2" cy="164.2" r="5.2"/>
<circle cx="1438.2" cy="182.6" r="5.2"/>
<circle cx="1437.72" cy="190.5" r="5.2"/>
<circle cx="1439.18" cy="193.5" r="5.2"/>
<circle cx="1437.43" cy="196.5" r="5.2"/>
<circle cx="1438.75" cy="199.5" r="5.2"/>
<circle cx="1437.14" cy="202.5" r="5.2"/>
<circle cx="1439.04" cy="205.5" r="5.2"/>
<circle cx="1437.58" cy="208.5" r="5.2"/>
<circle cx="1439.33" cy="211.5" r="5.2"/>
<circle cx="1437.29" cy="214.5" r="5.2"/>
<circle cx="1438.2" cy="216.8" r="5.2"/>
<circle cx="1475.3" cy="123.4" r="5.2"/>
<circle cx="1475.3" cy="165.8" r="5.2"/>
<circle cx="1475.3" cy="173.6" r="5.2"/>
<circle cx="1474.82" cy="188.5" r="5.2"/>
<circle cx="1476.28" cy="191.5" r="5.2"/>
<circle cx="1474.53" cy="194.5" r="5.2"/>
<circle cx="1475.85" cy="197.5" r="5.2"/>
<circle cx="1474.24" cy="200.5" r="5.2"/>
<circle cx="1476.14" cy="203.5" r="5.2"/>
<circle cx="1474.68" cy="206.5" r="5.2"/>
<circle cx="1476.43" cy="209.5" r="5.2"/>
<circle cx="1474.39" cy="212.5" r="5.2"/>
<circle cx="1476" cy="215.5" r="5.2"/>
<circle cx="1475.3" cy="216.8" r="5.2"/>
</g>
<line x1="1416" y1="78.8" x2="1416" y2="224.45" stroke="#000" stroke-width="3.3" stroke-linecap="butt"/>
<line x1="1414.35" y1="222.8" x2="1500" y2="222.8" stroke="#000" stroke-width="3.3" stroke-linecap="butt"/>
<line x1="1407.8" y1="216.8" x2="1416" y2="216.8" stroke="#000" stroke-width="3.3" stroke-linecap="butt"/>
<text x="1402.34" y="226.65" font-size="27.5" stroke="#000" stroke-width="0.45" text-anchor="end" textLength="14.53" lengthAdjust="spacingAndGlyphs">0</text>
<line x1="1407.8" y1="181.7" x2="1416" y2="181.7" stroke="#000" stroke-width="3.3" stroke-linecap="butt"/>
<text x="1402.41" y="191.55" font-size="27.5" stroke="#000" stroke-width="0.45" text-anchor="end" textLength="43.59" lengthAdjust="spacingAndGlyphs">250</text>
<line x1="1407.8" y1="146.6" x2="1416" y2="146.6" stroke="#000" stroke-width="3.3" stroke-linecap="butt"/>
<text x="1402.41" y="156.45" font-size="27.5" stroke="#000" stroke-width="0.45" text-anchor="end" textLength="43.59" lengthAdjust="spacingAndGlyphs">500</text>
<line x1="1407.8" y1="111.5" x2="1416" y2="111.5" stroke="#000" stroke-width="3.3" stroke-linecap="butt"/>
<text x="1402.41" y="121.34" font-size="27.5" stroke="#000" stroke-width="0.45" text-anchor="end" textLength="43.59" lengthAdjust="spacingAndGlyphs">750</text>
<line x1="1438.2" y1="222.8" x2="1438.2" y2="231" stroke="#000" stroke-width="3.3" stroke-linecap="butt"/>
<line x1="1475.3" y1="222.8" x2="1475.3" y2="231" stroke="#000" stroke-width="3.3" stroke-linecap="butt"/>
<text x="1415.41" y="39.8" font-size="33" textLength="57.03" lengthAdjust="spacingAndGlyphs">TNF</text>
<text x="1470.79" y="39.8" font-size="36" textLength="22.44" lengthAdjust="spacingAndGlyphs"><tspan font-family="'Liberation Serif', serif">α</tspan></text>
<text x="1415.92" y="62.7" font-size="21" stroke="#000" stroke-width="0.45" textLength="77.39" lengthAdjust="spacingAndGlyphs">p = 0.77</text>
<g>
<rect x="897.4" y="424.6" width="27.6" height="12" fill="#f2f2f2" stroke="#000" stroke-width="3.2" stroke-linejoin="round"/>
<line x1="897.4" y1="432.4" x2="925" y2="432.4" stroke="#000" stroke-width="3.2" stroke-linecap="butt"/>
<rect x="935" y="416.8" width="26.9" height="17.5" fill="#f2f2f2" stroke="#000" stroke-width="3.2" stroke-linejoin="round"/>
<line x1="935" y1="430.9" x2="961.9" y2="430.9" stroke="#000" stroke-width="3.2" stroke-linecap="butt"/>
</g><g fill="#000">
<circle cx="911" cy="312.9" r="5.2"/>
<circle cx="911" cy="400.8" r="5.2"/>
<circle cx="910.52" cy="416.5" r="5.2"/>
<circle cx="911.98" cy="419.5" r="5.2"/>
<circle cx="910.23" cy="422.5" r="5.2"/>
<circle cx="911.55" cy="425.5" r="5.2"/>
<circle cx="909.94" cy="428.5" r="5.2"/>
<circle cx="911.84" cy="431.5" r="5.2"/>
<circle cx="910.38" cy="434.5" r="5.2"/>
<circle cx="912.13" cy="437.5" r="5.2"/>
<circle cx="911" cy="439.8" r="5.2"/>
<circle cx="948.6" cy="331.8" r="5.2"/>
<circle cx="948.6" cy="378.7" r="5.2"/>
<circle cx="948.6" cy="403.8" r="5.2"/>
<circle cx="948.6" cy="406.3" r="5.2"/>
<circle cx="948.12" cy="415" r="5.2"/>
<circle cx="949.58" cy="418" r="5.2"/>
<circle cx="947.83" cy="421" r="5.2"/>
<circle cx="949.15" cy="424" r="5.2"/>
<circle cx="947.54" cy="427" r="5.2"/>
<circle cx="949.44" cy="430" r="5.2"/>
<circle cx="947.98" cy="433" r="5.2"/>
<circle cx="949.73" cy="436" r="5.2"/>
<circle cx="947.69" cy="439" r="5.2"/>
<circle cx="949.3" cy="442" r="5.2"/>
<circle cx="948.12" cy="445" r="5.2"/>
<circle cx="948.6" cy="445.6" r="5.2"/>
</g>
<line x1="889.1" y1="306.7" x2="889.1" y2="452.75" stroke="#000" stroke-width="3.3" stroke-linecap="butt"/>
<line x1="887.45" y1="451.1" x2="970.7" y2="451.1" stroke="#000" stroke-width="3.3" stroke-linecap="butt"/>
<line x1="881.2" y1="444.3" x2="889.1" y2="444.3" stroke="#000" stroke-width="3.3" stroke-linecap="butt"/>
<text x="874.14" y="454.14" font-size="27.5" stroke="#000" stroke-width="0.45" text-anchor="end" textLength="14.53" lengthAdjust="spacingAndGlyphs">0</text>
<line x1="881.2" y1="399.97" x2="889.1" y2="399.97" stroke="#000" stroke-width="3.3" stroke-linecap="butt"/>
<text x="874.18" y="409.82" font-size="27.5" stroke="#000" stroke-width="0.45" text-anchor="end" textLength="29.06" lengthAdjust="spacingAndGlyphs">50</text>
<line x1="881.2" y1="355.64" x2="889.1" y2="355.64" stroke="#000" stroke-width="3.3" stroke-linecap="butt"/>
<text x="874.21" y="365.49" font-size="27.5" stroke="#000" stroke-width="0.45" text-anchor="end" textLength="43.59" lengthAdjust="spacingAndGlyphs">100</text>
<line x1="881.2" y1="311.31" x2="889.1" y2="311.31" stroke="#000" stroke-width="3.3" stroke-linecap="butt"/>
<text x="874.21" y="321.15" font-size="27.5" stroke="#000" stroke-width="0.45" text-anchor="end" textLength="43.59" lengthAdjust="spacingAndGlyphs">150</text>
<line x1="911" y1="451.1" x2="911" y2="459.3" stroke="#000" stroke-width="3.3" stroke-linecap="butt"/>
<line x1="948.6" y1="451.1" x2="948.6" y2="459.3" stroke="#000" stroke-width="3.3" stroke-linecap="butt"/>
<text x="884.16" y="269" font-size="33" textLength="54.3" lengthAdjust="spacingAndGlyphs">IL-6</text>
<text x="888.62" y="292.7" font-size="21" stroke="#000" stroke-width="0.45" textLength="77.29" lengthAdjust="spacingAndGlyphs">p = 0.62</text>
<g>
<rect x="1082" y="420.1" width="27.8" height="22.2" fill="#f2f2f2" stroke="#000" stroke-width="3.2" stroke-linejoin="round"/>
<line x1="1082" y1="430.2" x2="1109.8" y2="430.2" stroke="#000" stroke-width="3.2" stroke-linecap="butt"/>
<rect x="1119.4" y="433.5" width="27.2" height="9.7" fill="#f2f2f2" stroke="#000" stroke-width="3.2" stroke-linejoin="round"/>
<line x1="1119.4" y1="440.6" x2="1146.6" y2="440.6" stroke="#000" stroke-width="3.2" stroke-linecap="butt"/>
</g><g fill="#000">
<circle cx="1095.8" cy="312.9" r="5.2"/>
<circle cx="1095.8" cy="410.1" r="5.2"/>
<circle cx="1095.32" cy="416.5" r="5.2"/>
<circle cx="1096.78" cy="419.5" r="5.2"/>
<circle cx="1095.03" cy="422.5" r="5.2"/>
<circle cx="1096.35" cy="425.5" r="5.2"/>
<circle cx="1094.74" cy="428.5" r="5.2"/>
<circle cx="1096.64" cy="431.5" r="5.2"/>
<circle cx="1095.18" cy="434.5" r="5.2"/>
<circle cx="1096.93" cy="437.5" r="5.2"/>
<circle cx="1094.89" cy="440.5" r="5.2"/>
<circle cx="1096.5" cy="443.5" r="5.2"/>
<circle cx="1095.8" cy="444.5" r="5.2"/>
<circle cx="1133.5" cy="327.7" r="5.2"/>
<circle cx="1133.5" cy="340.2" r="5.2"/>
<circle cx="1133.5" cy="346.1" r="5.2"/>
<circle cx="1133.5" cy="424.7" r="5.2"/>
<circle cx="1133.02" cy="428" r="5.2"/>
<circle cx="1134.48" cy="431" r="5.2"/>
<circle cx="1132.73" cy="434" r="5.2"/>
<circle cx="1134.05" cy="437" r="5.2"/>
<circle cx="1132.44" cy="440" r="5.2"/>
<circle cx="1134.34" cy="443" r="5.2"/>
<circle cx="1133.5" cy="444" r="5.2"/>
<circle cx="1130" cy="444" r="5.2"/>
<circle cx="1137" cy="444" r="5.2"/>
</g>
<line x1="1073.7" y1="306.7" x2="1073.7" y2="452.75" stroke="#000" stroke-width="3.3" stroke-linecap="butt"/>
<line x1="1072.05" y1="451.1" x2="1155.4" y2="451.1" stroke="#000" stroke-width="3.3" stroke-linecap="butt"/>
<line x1="1065.9" y1="443.9" x2="1073.7" y2="443.9" stroke="#000" stroke-width="3.3" stroke-linecap="butt"/>
<text x="1059.14" y="453.75" font-size="27.5" stroke="#000" stroke-width="0.45" text-anchor="end" textLength="14.53" lengthAdjust="spacingAndGlyphs">0</text>
<line x1="1065.9" y1="410.22" x2="1073.7" y2="410.22" stroke="#000" stroke-width="3.3" stroke-linecap="butt"/>
<text x="1059.11" y="420.06" font-size="27.5" stroke="#000" stroke-width="0.45" text-anchor="end" textLength="58.12" lengthAdjust="spacingAndGlyphs">1000</text>
<line x1="1065.9" y1="376.54" x2="1073.7" y2="376.54" stroke="#000" stroke-width="3.3" stroke-linecap="butt"/>
<text x="1059.11" y="386.38" font-size="27.5" stroke="#000" stroke-width="0.45" text-anchor="end" textLength="58.12" lengthAdjust="spacingAndGlyphs">2000</text>
<line x1="1065.9" y1="342.86" x2="1073.7" y2="342.86" stroke="#000" stroke-width="3.3" stroke-linecap="butt"/>
<text x="1059.11" y="352.71" font-size="27.5" stroke="#000" stroke-width="0.45" text-anchor="end" textLength="58.12" lengthAdjust="spacingAndGlyphs">3000</text>
<line x1="1065.9" y1="309.18" x2="1073.7" y2="309.18" stroke="#000" stroke-width="3.3" stroke-linecap="butt"/>
<text x="1059.11" y="319.02" font-size="27.5" stroke="#000" stroke-width="0.45" text-anchor="end" textLength="58.12" lengthAdjust="spacingAndGlyphs">4000</text>
<line x1="1095.8" y1="451.1" x2="1095.8" y2="459.3" stroke="#000" stroke-width="3.3" stroke-linecap="butt"/>
<line x1="1133.5" y1="451.1" x2="1133.5" y2="459.3" stroke="#000" stroke-width="3.3" stroke-linecap="butt"/>
<text x="1069.17" y="269" font-size="33" textLength="71.71" lengthAdjust="spacingAndGlyphs">IL-10</text>
<text x="1070.63" y="292.7" font-size="21" stroke="#000" stroke-width="0.45" textLength="76.56" lengthAdjust="spacingAndGlyphs">p = 0.12</text>
<g>
<rect x="1250.9" y="442.7" width="30.5" height="3.2" fill="#000"/>
<rect x="1289.6" y="442" width="27.5" height="2.2" fill="#f2f2f2" stroke="#000" stroke-width="3.2" stroke-linejoin="round"/>
<line x1="1289.6" y1="443.5" x2="1317.1" y2="443.5" stroke="#000" stroke-width="3.2" stroke-linecap="butt"/>
</g><g fill="#000">
<circle cx="1266.3" cy="312.9" r="5.2"/>
<circle cx="1266.3" cy="415.8" r="5.2"/>
<circle cx="1266.3" cy="425" r="5.2"/>
<circle cx="1261.9" cy="444.3" r="5.2"/>
<circle cx="1266.3" cy="444.3" r="5.2"/>
<circle cx="1270.7" cy="444.3" r="5.2"/>
<circle cx="1303.6" cy="394.1" r="5.2"/>
<circle cx="1303.6" cy="418" r="5.2"/>
<circle cx="1303.6" cy="421.4" r="5.2"/>
<circle cx="1303.6" cy="429.7" r="5.2"/>
<circle cx="1303.6" cy="434.7" r="5.2"/>
<circle cx="1303.6" cy="439" r="5.2"/>
<circle cx="1297.6" cy="444.3" r="5.2"/>
<circle cx="1300.6" cy="444.3" r="5.2"/>
<circle cx="1303.6" cy="444.3" r="5.2"/>
<circle cx="1306.6" cy="444.3" r="5.2"/>
<circle cx="1309.6" cy="444.3" r="5.2"/>
</g>
<line x1="1244.2" y1="306.7" x2="1244.2" y2="452.75" stroke="#000" stroke-width="3.3" stroke-linecap="butt"/>
<line x1="1242.55" y1="451.1" x2="1325.7" y2="451.1" stroke="#000" stroke-width="3.3" stroke-linecap="butt"/>
<line x1="1236.2" y1="444.3" x2="1244.2" y2="444.3" stroke="#000" stroke-width="3.3" stroke-linecap="butt"/>
<text x="1229.24" y="454.14" font-size="27.5" stroke="#000" stroke-width="0.45" text-anchor="end" textLength="14.53" lengthAdjust="spacingAndGlyphs">0</text>
<line x1="1236.2" y1="409.45" x2="1244.2" y2="409.45" stroke="#000" stroke-width="3.3" stroke-linecap="butt"/>
<text x="1229.28" y="419.29" font-size="27.5" stroke="#000" stroke-width="0.45" text-anchor="end" textLength="29.06" lengthAdjust="spacingAndGlyphs">50</text>
<line x1="1236.2" y1="374.6" x2="1244.2" y2="374.6" stroke="#000" stroke-width="3.3" stroke-linecap="butt"/>
<text x="1229.31" y="384.45" font-size="27.5" stroke="#000" stroke-width="0.45" text-anchor="end" textLength="43.59" lengthAdjust="spacingAndGlyphs">100</text>
<line x1="1236.2" y1="339.75" x2="1244.2" y2="339.75" stroke="#000" stroke-width="3.3" stroke-linecap="butt"/>
<text x="1229.31" y="349.6" font-size="27.5" stroke="#000" stroke-width="0.45" text-anchor="end" textLength="43.59" lengthAdjust="spacingAndGlyphs">150</text>
<line x1="1266.3" y1="451.1" x2="1266.3" y2="459.3" stroke="#000" stroke-width="3.3" stroke-linecap="butt"/>
<line x1="1303.6" y1="451.1" x2="1303.6" y2="459.3" stroke="#000" stroke-width="3.3" stroke-linecap="butt"/>
<text x="1242.19" y="269" font-size="33" textLength="71.15" lengthAdjust="spacingAndGlyphs">IL-17</text>
<text x="1243.62" y="292.7" font-size="21" stroke="#000" stroke-width="0.45" textLength="77.07" lengthAdjust="spacingAndGlyphs">p = 0.58</text>
<g>
<rect x="1422.7" y="418.7" width="27.3" height="24.9" fill="#f2f2f2" stroke="#000" stroke-width="3.2" stroke-linejoin="round"/>
<line x1="1422.7" y1="433.1" x2="1450" y2="433.1" stroke="#000" stroke-width="3.2" stroke-linecap="butt"/>
<line x1="1473.7" y1="345.4" x2="1473.7" y2="394" stroke="#000" stroke-width="3.2" stroke-linecap="butt"/>
<line x1="1473.7" y1="437.1" x2="1473.7" y2="444.4" stroke="#000" stroke-width="3.2" stroke-linecap="butt"/>
<rect x="1459.8" y="395.6" width="27.4" height="39.9" fill="#f2f2f2" stroke="#000" stroke-width="3.2" stroke-linejoin="round"/>
<line x1="1459.8" y1="415.9" x2="1487.2" y2="415.9" stroke="#000" stroke-width="3.2" stroke-linecap="butt"/>
</g><g fill="#000">
<circle cx="1436.5" cy="380.5" r="5.2"/>
<circle cx="1436.5" cy="411.6" r="5.2"/>
<circle cx="1436.02" cy="416" r="5.2"/>
<circle cx="1437.48" cy="419" r="5.2"/>
<circle cx="1435.73" cy="422" r="5.2"/>
<circle cx="1437.05" cy="425" r="5.2"/>
<circle cx="1435.44" cy="428" r="5.2"/>
<circle cx="1437.34" cy="431" r="5.2"/>
<circle cx="1435.88" cy="434" r="5.2"/>
<circle cx="1437.63" cy="437" r="5.2"/>
<circle cx="1435.59" cy="440" r="5.2"/>
<circle cx="1437.2" cy="443" r="5.2"/>
<circle cx="1436.5" cy="444.4" r="5.2"/>
<circle cx="1473.7" cy="313.3" r="5.2"/>
<circle cx="1473.7" cy="332.9" r="5.2"/>
<circle cx="1473.7" cy="345.4" r="5.2"/>
<circle cx="1473.7" cy="380.9" r="5.2"/>
<circle cx="1473.7" cy="390.6" r="5.2"/>
<circle cx="1473.22" cy="396" r="5.2"/>
<circle cx="1474.68" cy="399" r="5.2"/>
<circle cx="1472.93" cy="402" r="5.2"/>
<circle cx="1474.25" cy="405" r="5.2"/>
<circle cx="1472.64" cy="408" r="5.2"/>
<circle cx="1474.54" cy="411" r="5.2"/>
<circle cx="1473.08" cy="414" r="5.2"/>
<circle cx="1474.83" cy="417" r="5.2"/>
<circle cx="1472.79" cy="420" r="5.2"/>
<circle cx="1474.4" cy="423" r="5.2"/>
<circle cx="1473.22" cy="426" r="5.2"/>
<circle cx="1474.68" cy="429" r="5.2"/>
<circle cx="1472.93" cy="432" r="5.2"/>
<circle cx="1474.25" cy="435" r="5.2"/>
<circle cx="1472.64" cy="438" r="5.2"/>
<circle cx="1474.54" cy="441" r="5.2"/>
<circle cx="1473.08" cy="444" r="5.2"/>
<circle cx="1473.7" cy="444.4" r="5.2"/>
</g>
<line x1="1413.9" y1="306.7" x2="1413.9" y2="452.75" stroke="#000" stroke-width="3.3" stroke-linecap="butt"/>
<line x1="1412.25" y1="451.1" x2="1495.8" y2="451.1" stroke="#000" stroke-width="3.3" stroke-linecap="butt"/>
<line x1="1406" y1="444.4" x2="1413.9" y2="444.4" stroke="#000" stroke-width="3.3" stroke-linecap="butt"/>
<text x="1400.74" y="454.25" font-size="27.5" stroke="#000" stroke-width="0.45" text-anchor="end" textLength="14.53" lengthAdjust="spacingAndGlyphs">0</text>
<line x1="1406" y1="412.62" x2="1413.9" y2="412.62" stroke="#000" stroke-width="3.3" stroke-linecap="butt"/>
<text x="1400.81" y="422.47" font-size="27.5" stroke="#000" stroke-width="0.45" text-anchor="end" textLength="43.59" lengthAdjust="spacingAndGlyphs">250</text>
<line x1="1406" y1="380.84" x2="1413.9" y2="380.84" stroke="#000" stroke-width="3.3" stroke-linecap="butt"/>
<text x="1400.81" y="390.68" font-size="27.5" stroke="#000" stroke-width="0.45" text-anchor="end" textLength="43.59" lengthAdjust="spacingAndGlyphs">500</text>
<line x1="1406" y1="349.06" x2="1413.9" y2="349.06" stroke="#000" stroke-width="3.3" stroke-linecap="butt"/>
<text x="1400.81" y="358.9" font-size="27.5" stroke="#000" stroke-width="0.45" text-anchor="end" textLength="43.59" lengthAdjust="spacingAndGlyphs">750</text>
<line x1="1406" y1="317.28" x2="1413.9" y2="317.28" stroke="#000" stroke-width="3.3" stroke-linecap="butt"/>
<text x="1400.71" y="327.12" font-size="27.5" stroke="#000" stroke-width="0.45" text-anchor="end" textLength="58.12" lengthAdjust="spacingAndGlyphs">1000</text>
<line x1="1436.5" y1="451.1" x2="1436.5" y2="459.3" stroke="#000" stroke-width="3.3" stroke-linecap="butt"/>
<line x1="1473.7" y1="451.1" x2="1473.7" y2="459.3" stroke="#000" stroke-width="3.3" stroke-linecap="butt"/>
<text x="1413.62" y="269" font-size="33" textLength="70.29" lengthAdjust="spacingAndGlyphs">IL-23</text>
<text x="1412.02" y="292.7" font-size="21" stroke="#000" stroke-width="0.45" textLength="89.3" lengthAdjust="spacingAndGlyphs">p = 0.026</text>
<text x="0" y="0" font-size="27" stroke="#000" stroke-width="0.45" text-anchor="end" textLength="91.37" lengthAdjust="spacingAndGlyphs" transform="translate(130.68 526.62) rotate(-45)">Control</text>
<text x="0" y="0" font-size="27" stroke="#000" stroke-width="0.45" text-anchor="end" textLength="121.97" lengthAdjust="spacingAndGlyphs" transform="translate(172.56 526.14) rotate(-45)">COVID−19</text>
<text x="0" y="0" font-size="27" stroke="#000" stroke-width="0.45" text-anchor="end" textLength="91.37" lengthAdjust="spacingAndGlyphs" transform="translate(315.28 526.62) rotate(-45)">Control</text>
<text x="0" y="0" font-size="27" stroke="#000" stroke-width="0.45" text-anchor="end" textLength="121.97" lengthAdjust="spacingAndGlyphs" transform="translate(357.06 526.14) rotate(-45)">COVID−19</text>
<text x="0" y="0" font-size="27" stroke="#000" stroke-width="0.45" text-anchor="end" textLength="91.37" lengthAdjust="spacingAndGlyphs" transform="translate(485.78 526.62) rotate(-45)">Control</text>
<text x="0" y="0" font-size="27" stroke="#000" stroke-width="0.45" text-anchor="end" textLength="121.97" lengthAdjust="spacingAndGlyphs" transform="translate(527.56 526.14) rotate(-45)">COVID−19</text>
<text x="0" y="0" font-size="27" stroke="#000" stroke-width="0.45" text-anchor="end" textLength="91.37" lengthAdjust="spacingAndGlyphs" transform="translate(655.78 526.62) rotate(-45)">Control</text>
<text x="0" y="0" font-size="27" stroke="#000" stroke-width="0.45" text-anchor="end" textLength="121.97" lengthAdjust="spacingAndGlyphs" transform="translate(697.56 526.14) rotate(-45)">COVID−19</text>
<text x="0" y="0" font-size="26.5" stroke="#000" stroke-width="0.45" text-anchor="end" textLength="182.64" lengthAdjust="spacingAndGlyphs" transform="translate(923.94 471.96) rotate(-45)">Mild/Moderate</text>
<text x="0" y="0" font-size="26.5" stroke="#000" stroke-width="0.45" text-anchor="end" textLength="82.43" lengthAdjust="spacingAndGlyphs" transform="translate(958.89 472.71) rotate(-45)">Severe</text>
<text x="0" y="0" font-size="26.5" stroke="#000" stroke-width="0.45" text-anchor="end" textLength="182.64" lengthAdjust="spacingAndGlyphs" transform="translate(1108.74 471.96) rotate(-45)">Mild/Moderate</text>
<text x="0" y="0" font-size="26.5" stroke="#000" stroke-width="0.45" text-anchor="end" textLength="82.43" lengthAdjust="spacingAndGlyphs" transform="translate(1143.79 472.71) rotate(-45)">Severe</text>
<text x="0" y="0" font-size="26.5" stroke="#000" stroke-width="0.45" text-anchor="end" textLength="182.64" lengthAdjust="spacingAndGlyphs" transform="translate(1279.24 471.96) rotate(-45)">Mild/Moderate</text>
<text x="0" y="0" font-size="26.5" stroke="#000" stroke-width="0.45" text-anchor="end" textLength="82.43" lengthAdjust="spacingAndGlyphs" transform="translate(1313.89 472.71) rotate(-45)">Severe</text>
<text x="0" y="0" font-size="26.5" stroke="#000" stroke-width="0.45" text-anchor="end" textLength="182.64" lengthAdjust="spacingAndGlyphs" transform="translate(1449.44 471.96) rotate(-45)">Mild/Moderate</text>
<text x="0" y="0" font-size="26.5" stroke="#000" stroke-width="0.45" text-anchor="end" textLength="82.43" lengthAdjust="spacingAndGlyphs" transform="translate(1483.99 472.71) rotate(-45)">Severe</text>
<text x="0" y="0" font-size="34.5" stroke="#000" stroke-width="0.3" textLength="75.49" lengthAdjust="spacingAndGlyphs" transform="translate(28.1 452.77) rotate(-90)">Fecal</text>
<text x="0" y="0" font-size="34.5" stroke="#000" stroke-width="0.3" textLength="121.63" lengthAdjust="spacingAndGlyphs" transform="translate(28.1 370.33) rotate(-90)">cytokine</text>
<text x="0" y="0" font-size="34.5" stroke="#000" stroke-width="0.3" textLength="115.82" lengthAdjust="spacingAndGlyphs" transform="translate(28.1 238.32) rotate(-90)">(pg/mg)</text>
<text x="0" y="0" font-size="36" stroke="#000" stroke-width="0.3" textLength="79.42" lengthAdjust="spacingAndGlyphs" transform="translate(795.8 417.2) rotate(-90)">Fecal</text>
<text x="0" y="0" font-size="36" stroke="#000" stroke-width="0.3" textLength="128.4" lengthAdjust="spacingAndGlyphs" transform="translate(795.8 330.4) rotate(-90)">cytokine</text>
<text x="0" y="0" font-size="36" stroke="#000" stroke-width="0.3" textLength="121.73" lengthAdjust="spacingAndGlyphs" transform="translate(795.8 191.02) rotate(-90)">(pg/mg)</text>
<text x="-1.19" y="36.8" font-size="50" textLength="34.49" lengthAdjust="spacingAndGlyphs" font-weight="bold">A</text>
<text x="772.93" y="36" font-size="48.5" textLength="33.03" lengthAdjust="spacingAndGlyphs" font-weight="bold">B</text>
<text x="-0.91" y="739.7" font-size="49" textLength="30.87" lengthAdjust="spacingAndGlyphs" font-weight="bold">C</text>
<text x="381.74" y="740.7" font-size="49" textLength="37.34" lengthAdjust="spacingAndGlyphs" font-weight="bold">D</text>
<g>
<line x1="164.3" y1="843.3" x2="164.3" y2="868.8" stroke="#000" stroke-width="2.9" stroke-linecap="butt"/>
<line x1="164.3" y1="922.8" x2="164.3" y2="974" stroke="#000" stroke-width="2.9" stroke-linecap="butt"/>
<rect x="146.75" y="870.25" width="35.3" height="51.1" fill="#f2f2f2" stroke="#000" stroke-width="2.9" stroke-linejoin="round"/>
<line x1="146.75" y1="890.2" x2="182.05" y2="890.2" stroke="#000" stroke-width="2.9" stroke-linecap="butt"/>
<line x1="211.4" y1="824.7" x2="211.4" y2="855.4" stroke="#000" stroke-width="2.9" stroke-linecap="butt"/>
<line x1="211.4" y1="907.4" x2="211.4" y2="958.5" stroke="#000" stroke-width="2.9" stroke-linecap="butt"/>
<rect x="194.25" y="856.85" width="34.8" height="49.1" fill="#f2f2f2" stroke="#000" stroke-width="2.9" stroke-linejoin="round"/>
<line x1="194.25" y1="880.2" x2="229.05" y2="880.2" stroke="#000" stroke-width="2.9" stroke-linecap="butt"/>
</g><g fill="#000">
<circle cx="164.3" cy="842.6" r="5.9"/>
<circle cx="164.3" cy="858.5" r="5.9"/>
<circle cx="164.3" cy="864" r="5.9"/>
<circle cx="164.3" cy="880" r="5.9"/>
<circle cx="164.3" cy="885" r="5.9"/>
<circle cx="164.3" cy="890.5" r="5.9"/>
<circle cx="164.3" cy="900.2" r="5.9"/>
<circle cx="164.3" cy="904" r="5.9"/>
<circle cx="164.3" cy="920.6" r="5.9"/>
<circle cx="164.3" cy="942.6" r="5.9"/>
<circle cx="164.3" cy="952.2" r="5.9"/>
<circle cx="164.3" cy="970.3" r="5.9"/>
<circle cx="164.3" cy="974.9" r="5.9"/>
<circle cx="211.4" cy="825.8" r="5.9"/>
<circle cx="211.4" cy="831.1" r="5.9"/>
<circle cx="211.4" cy="836" r="5.9"/>
<circle cx="211.4" cy="842.4" r="5.9"/>
<circle cx="210.92" cy="849.5" r="5.9"/>
<circle cx="212.38" cy="852.5" r="5.9"/>
<circle cx="210.63" cy="855.5" r="5.9"/>
<circle cx="211.95" cy="858.5" r="5.9"/>
<circle cx="210.34" cy="861.5" r="5.9"/>
<circle cx="212.24" cy="864.5" r="5.9"/>
<circle cx="210.78" cy="867.5" r="5.9"/>
<circle cx="212.53" cy="870.5" r="5.9"/>
<circle cx="211.4" cy="870.5" r="5.9"/>
<circle cx="211.4" cy="880.8" r="5.9"/>
<circle cx="211.4" cy="895.8" r="5.9"/>
<circle cx="211.4" cy="901.9" r="5.9"/>
<circle cx="211.4" cy="907.9" r="5.9"/>
<circle cx="211.4" cy="912.4" r="5.9"/>
<circle cx="211.4" cy="922.2" r="5.9"/>
<circle cx="211.4" cy="945.5" r="5.9"/>
<circle cx="211.4" cy="958.3" r="5.9"/>
</g>
<line x1="136.2" y1="772" x2="136.2" y2="1020.65" stroke="#000" stroke-width="3.3" stroke-linecap="butt"/>
<line x1="134.55" y1="1019" x2="239.7" y2="1019" stroke="#000" stroke-width="3.3" stroke-linecap="butt"/>
<line x1="126" y1="1007.5" x2="136.2" y2="1007.5" stroke="#000" stroke-width="3.3" stroke-linecap="butt"/>
<text x="121.13" y="1020.01" font-size="33" stroke="#000" stroke-width="0.3" text-anchor="end" textLength="17.44" lengthAdjust="spacingAndGlyphs">0</text>
<line x1="126" y1="951.25" x2="136.2" y2="951.25" stroke="#000" stroke-width="3.3" stroke-linecap="butt"/>
<text x="121.45" y="963.76" font-size="33" stroke="#000" stroke-width="0.3" text-anchor="end" textLength="17.44" lengthAdjust="spacingAndGlyphs">1</text>
<line x1="126" y1="895" x2="136.2" y2="895" stroke="#000" stroke-width="3.3" stroke-linecap="butt"/>
<text x="121.6" y="907.51" font-size="33" stroke="#000" stroke-width="0.3" text-anchor="end" textLength="17.44" lengthAdjust="spacingAndGlyphs">2</text>
<line x1="126" y1="838.75" x2="136.2" y2="838.75" stroke="#000" stroke-width="3.3" stroke-linecap="butt"/>
<text x="121.29" y="851.26" font-size="33" stroke="#000" stroke-width="0.3" text-anchor="end" textLength="17.44" lengthAdjust="spacingAndGlyphs">3</text>
<line x1="126" y1="782.5" x2="136.2" y2="782.5" stroke="#000" stroke-width="3.3" stroke-linecap="butt"/>
<text x="120.98" y="795.01" font-size="33" stroke="#000" stroke-width="0.3" text-anchor="end" textLength="17.44" lengthAdjust="spacingAndGlyphs">4</text>
<line x1="164.3" y1="1019" x2="164.3" y2="1028.9" stroke="#000" stroke-width="3.3" stroke-linecap="butt"/>
<line x1="211.4" y1="1019" x2="211.4" y2="1028.9" stroke="#000" stroke-width="3.3" stroke-linecap="butt"/>
<text x="111.72" y="727.7" font-size="33" textLength="179.4" lengthAdjust="spacingAndGlyphs">Calprotectin</text>
<text x="135.68" y="761.1" font-size="26" stroke="#000" stroke-width="0.45" textLength="96.5" lengthAdjust="spacingAndGlyphs">p = 0.12</text>
<text x="0" y="0" font-size="33.5" stroke="#000" stroke-width="0.3" text-anchor="end" textLength="214.27" lengthAdjust="spacingAndGlyphs" transform="translate(184.4 1044.5) rotate(-45)">Mild/Moderate</text>
<text x="0" y="0" font-size="33.5" stroke="#000" stroke-width="0.3" text-anchor="end" textLength="97.89" lengthAdjust="spacingAndGlyphs" transform="translate(228.46 1044.84) rotate(-45)">Severe</text>
<text x="0" y="0" font-size="33.5" stroke="#000" stroke-width="0.3" textLength="81.28" lengthAdjust="spacingAndGlyphs" transform="translate(81.5 967.26) rotate(-90)">log10</text>
<text x="0" y="0" font-size="33.5" stroke="#000" stroke-width="0.3" textLength="70.19" lengthAdjust="spacingAndGlyphs" transform="translate(81.5 878.32) rotate(-90)">μg/g</text>
<line x1="483.6" y1="729.3" x2="483.6" y2="1022.35" stroke="#000" stroke-width="3.3" stroke-linecap="butt"/>
<line x1="481.95" y1="1020.7" x2="832.7" y2="1020.7" stroke="#000" stroke-width="3.3" stroke-linecap="butt"/>
<line x1="478.2" y1="742.8" x2="483.6" y2="742.8" stroke="#000" stroke-width="3.3" stroke-linecap="butt"/>
<text x="471.37" y="749.66" font-size="33" stroke="#000" stroke-width="0.3" text-anchor="end" textLength="34.87" lengthAdjust="spacingAndGlyphs">10</text>
<line x1="478.2" y1="831.1" x2="483.6" y2="831.1" stroke="#000" stroke-width="3.3" stroke-linecap="butt"/>
<text x="471.37" y="837.96" font-size="33" stroke="#000" stroke-width="0.3" text-anchor="end" textLength="34.87" lengthAdjust="spacingAndGlyphs">20</text>
<line x1="478.2" y1="919.3" x2="483.6" y2="919.3" stroke="#000" stroke-width="3.3" stroke-linecap="butt"/>
<text x="471.37" y="926.16" font-size="33" stroke="#000" stroke-width="0.3" text-anchor="end" textLength="34.87" lengthAdjust="spacingAndGlyphs">30</text>
<line x1="478.2" y1="1007.6" x2="483.6" y2="1007.6" stroke="#000" stroke-width="3.3" stroke-linecap="butt"/>
<text x="471.37" y="1014.46" font-size="33" stroke="#000" stroke-width="0.3" text-anchor="end" textLength="34.87" lengthAdjust="spacingAndGlyphs">40</text>
<line x1="499.4" y1="1020.7" x2="499.4" y2="1026" stroke="#000" stroke-width="3.3" stroke-linecap="butt"/>
<text x="503.9" y="1051.1" font-size="33" stroke="#000" stroke-width="0.3" text-anchor="middle">0</text>
<line x1="589.5" y1="1020.7" x2="589.5" y2="1026" stroke="#000" stroke-width="3.3" stroke-linecap="butt"/>
<text x="594" y="1051.1" font-size="33" stroke="#000" stroke-width="0.3" text-anchor="middle">1</text>
<line x1="679.6" y1="1020.7" x2="679.6" y2="1026" stroke="#000" stroke-width="3.3" stroke-linecap="butt"/>
<text x="684.1" y="1051.1" font-size="33" stroke="#000" stroke-width="0.3" text-anchor="middle">2</text>
<line x1="769.7" y1="1020.7" x2="769.7" y2="1026" stroke="#000" stroke-width="3.3" stroke-linecap="butt"/>
<text x="774.2" y="1051.1" font-size="33" stroke="#000" stroke-width="0.3" text-anchor="middle">3</text>
<line x1="499.4" y1="1006.5" x2="816.9" y2="966.2" stroke="#000" stroke-width="2.9" stroke-linecap="butt"/>
<g fill="#000">
<circle cx="499.4" cy="1007.6" r="5.25"/>
<circle cx="552.4" cy="1007.6" r="5.25"/>
<circle cx="584.7" cy="1007.6" r="5.25"/>
<circle cx="588.4" cy="1007.6" r="5.25"/>
<circle cx="598.4" cy="1007.6" r="5.25"/>
<circle cx="602.6" cy="1007.6" r="5.25"/>
<circle cx="615.1" cy="1007.6" r="5.25"/>
<circle cx="636" cy="1007.6" r="5.25"/>
<circle cx="641" cy="1007.6" r="5.25"/>
<circle cx="658.1" cy="1007.6" r="5.25"/>
<circle cx="666.1" cy="1007.6" r="5.25"/>
<circle cx="671.1" cy="1007.6" r="5.25"/>
<circle cx="677.1" cy="1007.6" r="5.25"/>
<circle cx="682.1" cy="1007.6" r="5.25"/>
<circle cx="686.1" cy="1007.6" r="5.25"/>
<circle cx="702.1" cy="1007.6" r="5.25"/>
<circle cx="708.1" cy="1007.6" r="5.25"/>
<circle cx="713.2" cy="1007.6" r="5.25"/>
<circle cx="720.2" cy="1007.6" r="5.25"/>
<circle cx="730.2" cy="1007.6" r="5.25"/>
<circle cx="736.2" cy="1007.6" r="5.25"/>
<circle cx="741.2" cy="1007.6" r="5.25"/>
<circle cx="761.2" cy="1007.6" r="5.25"/>
<circle cx="768.2" cy="1007.6" r="5.25"/>
<circle cx="773.2" cy="1007.6" r="5.25"/>
<circle cx="778.2" cy="1007.6" r="5.25"/>
<circle cx="790.3" cy="1007.6" r="5.25"/>
<circle cx="807.3" cy="1007.6" r="5.25"/>
<circle cx="578.3" cy="984.1" r="5.25"/>
<circle cx="720.5" cy="786.7" r="5.25"/>
<circle cx="725.9" cy="789.5" r="5.25"/>
<circle cx="763.7" cy="826.3" r="5.25"/>
<circle cx="673.5" cy="910.2" r="5.25"/>
<circle cx="635.7" cy="920" r="5.25"/>
<circle cx="729.3" cy="916.6" r="5.25"/>
<circle cx="725.9" cy="929.7" r="5.25"/>
<circle cx="732.3" cy="938.7" r="5.25"/>
<circle cx="663.7" cy="942.7" r="5.25"/>
<circle cx="693.4" cy="939.3" r="5.25"/>
<circle cx="689.4" cy="945.7" r="5.25"/>
<circle cx="690.4" cy="960" r="5.25"/>
<circle cx="816.9" cy="948.2" r="5.25"/>
<circle cx="777.3" cy="971.4" r="5.25"/>
<circle cx="655.9" cy="981.2" r="5.25"/>
<circle cx="655.9" cy="990.2" r="5.25"/>
<circle cx="666.8" cy="985.7" r="5.25"/>
<circle cx="681.8" cy="983.1" r="5.25"/>
<circle cx="711.1" cy="990" r="5.25"/>
<circle cx="720.4" cy="993.5" r="5.25"/>
</g>
<text x="495.4" y="754" font-size="33" stroke="#000" stroke-width="0.3" textLength="142.8" lengthAdjust="spacingAndGlyphs">R<tspan font-size="19.5" dy="-11">2</tspan><tspan dy="11"> = 0.009</tspan></text>
<text x="495.93" y="786.2" font-size="33" stroke="#000" stroke-width="0.3" textLength="115.82" lengthAdjust="spacingAndGlyphs">p = 0.22</text>
<text x="437.34" y="1090.2" font-size="32" stroke="#000" stroke-width="0.3" textLength="75.06" lengthAdjust="spacingAndGlyphs">Fecal</text>
<text x="518.64" y="1090.2" font-size="32" stroke="#000" stroke-width="0.3" textLength="173.93" lengthAdjust="spacingAndGlyphs">calprotectin</text>
<text x="699.78" y="1090.2" font-size="32" stroke="#000" stroke-width="0.3" textLength="89.04" lengthAdjust="spacingAndGlyphs">(log10</text>
<text x="797.71" y="1090.2" font-size="32" stroke="#000" stroke-width="0.3" textLength="81.17" lengthAdjust="spacingAndGlyphs">μg/g)</text>
<text x="0" y="0" font-size="32.5" stroke="#000" stroke-width="0.3" textLength="33.96" lengthAdjust="spacingAndGlyphs" transform="translate(424.4 948.57) rotate(-90)">CT</text>
<text x="0" y="0" font-size="32.5" stroke="#000" stroke-width="0.3" textLength="96.74" lengthAdjust="spacingAndGlyphs" transform="translate(424.4 907.4) rotate(-90)">(feces)</text>
</svg>
</body></html>
